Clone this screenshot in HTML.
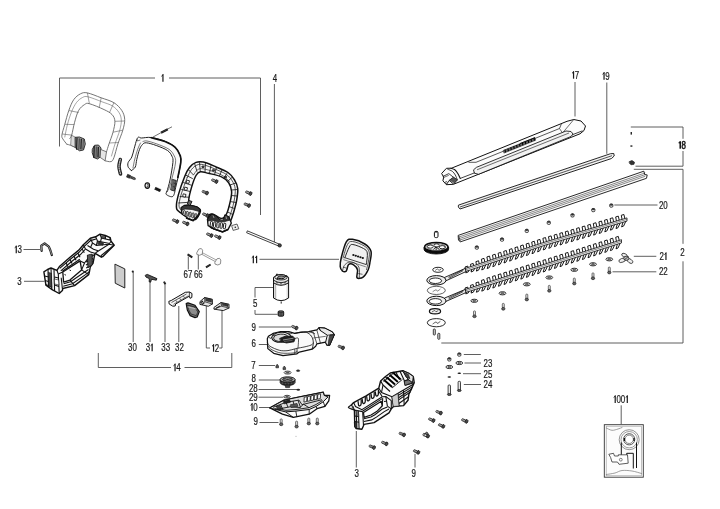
<!DOCTYPE html>
<html><head><meta charset="utf-8"><title>Exploded view</title>
<style>
html,body{margin:0;padding:0;background:#fff;}
body{width:720px;height:509px;overflow:hidden;font-family:"Liberation Sans",sans-serif;}
svg{display:block;filter:blur(0.35px);}
svg text{font-family:"Liberation Sans",sans-serif;}
</style></head><body>
<svg width="720" height="509" viewBox="0 0 720 509">
<rect width="720" height="509" fill="#fff"/>
<defs><filter id="nf" x="-5%" y="-5%" width="110%" height="110%" color-interpolation-filters="sRGB"><feOffset dx="0" dy="0"/></filter></defs>
<g filter="url(#nf)">
<path d="M59.50,146.50 L59.50,78.00 L155.00,78.00" fill="none" stroke="#4d4d4d" stroke-width="0.9" />
<path d="M169.00,78.00 L260.50,78.00 L260.50,215.00" fill="none" stroke="#4d4d4d" stroke-width="0.9" />
<path d="M162.95,74.31 L162.95,81.69" stroke="#1a1a1a" stroke-width="1.21" fill="none"/>
<path d="M163.25,74.66 L161.40,76.26" stroke="#1a1a1a" stroke-width="0.97" fill="none"/>
<text transform="translate(275.00,81.99) scale(0.77,1)" text-anchor="middle" font-size="10.3" font-weight="normal" fill="#1a1a1a" stroke="#1a1a1a" stroke-width="0.22">4</text>
<path d="M274.40,84.00 L274.40,244.00" fill="none" stroke="#4d4d4d" stroke-width="0.9" />
<path d="M16.25,245.81 L16.25,253.19" stroke="#1a1a1a" stroke-width="1.21" fill="none"/>
<path d="M16.55,246.16 L14.70,247.76" stroke="#1a1a1a" stroke-width="0.97" fill="none"/>
<text transform="translate(19.63,253.19) scale(0.77,1)" text-anchor="middle" font-size="10.3" font-weight="normal" fill="#1a1a1a" stroke="#1a1a1a" stroke-width="0.22">3</text>
<path d="M23.50,249.50 L40.00,249.50" fill="none" stroke="#4d4d4d" stroke-width="0.9" />
<text transform="translate(19.50,284.99) scale(0.77,1)" text-anchor="middle" font-size="10.3" font-weight="normal" fill="#1a1a1a" stroke="#1a1a1a" stroke-width="0.22">3</text>
<path d="M24.00,281.30 L44.50,281.30" fill="none" stroke="#4d4d4d" stroke-width="0.9" />
<text transform="translate(185.80,278.19) scale(0.77,1)" text-anchor="middle" font-size="10.3" font-weight="normal" fill="#1a1a1a" stroke="#1a1a1a" stroke-width="0.22">6</text>
<text transform="translate(190.20,278.19) scale(0.77,1)" text-anchor="middle" font-size="10.3" font-weight="normal" fill="#1a1a1a" stroke="#1a1a1a" stroke-width="0.22">7</text>
<path d="M188.30,256.50 L188.30,269.50" fill="none" stroke="#4d4d4d" stroke-width="0.9" />
<text transform="translate(196.10,278.19) scale(0.77,1)" text-anchor="middle" font-size="10.3" font-weight="normal" fill="#1a1a1a" stroke="#1a1a1a" stroke-width="0.22">6</text>
<text transform="translate(200.50,278.19) scale(0.77,1)" text-anchor="middle" font-size="10.3" font-weight="normal" fill="#1a1a1a" stroke="#1a1a1a" stroke-width="0.22">6</text>
<path d="M198.30,252.50 L198.30,269.50" fill="none" stroke="#4d4d4d" stroke-width="0.9" />
<path d="M253.32,255.81 L253.32,263.19" stroke="#1a1a1a" stroke-width="1.21" fill="none"/>
<path d="M253.62,256.16 L251.77,257.76" stroke="#1a1a1a" stroke-width="0.97" fill="none"/>
<path d="M256.58,255.81 L256.58,263.19" stroke="#1a1a1a" stroke-width="1.21" fill="none"/>
<path d="M256.88,256.16 L255.03,257.76" stroke="#1a1a1a" stroke-width="0.97" fill="none"/>
<path d="M259.50,259.30 L339.00,259.30" fill="none" stroke="#4d4d4d" stroke-width="0.9" />
<text transform="translate(130.30,351.19) scale(0.77,1)" text-anchor="middle" font-size="10.3" font-weight="normal" fill="#1a1a1a" stroke="#1a1a1a" stroke-width="0.22">3</text>
<text transform="translate(134.70,351.19) scale(0.77,1)" text-anchor="middle" font-size="10.3" font-weight="normal" fill="#1a1a1a" stroke="#1a1a1a" stroke-width="0.22">0</text>
<text transform="translate(147.87,351.19) scale(0.77,1)" text-anchor="middle" font-size="10.3" font-weight="normal" fill="#1a1a1a" stroke="#1a1a1a" stroke-width="0.22">3</text>
<path d="M152.15,343.81 L152.15,351.19" stroke="#1a1a1a" stroke-width="1.21" fill="none"/>
<path d="M152.45,344.16 L150.60,345.76" stroke="#1a1a1a" stroke-width="0.97" fill="none"/>
<text transform="translate(163.50,351.19) scale(0.77,1)" text-anchor="middle" font-size="10.3" font-weight="normal" fill="#1a1a1a" stroke="#1a1a1a" stroke-width="0.22">3</text>
<text transform="translate(167.90,351.19) scale(0.77,1)" text-anchor="middle" font-size="10.3" font-weight="normal" fill="#1a1a1a" stroke="#1a1a1a" stroke-width="0.22">3</text>
<text transform="translate(177.30,351.19) scale(0.77,1)" text-anchor="middle" font-size="10.3" font-weight="normal" fill="#1a1a1a" stroke="#1a1a1a" stroke-width="0.22">3</text>
<text transform="translate(181.70,351.19) scale(0.77,1)" text-anchor="middle" font-size="10.3" font-weight="normal" fill="#1a1a1a" stroke="#1a1a1a" stroke-width="0.22">2</text>
<path d="M213.55,344.31 L213.55,351.69" stroke="#1a1a1a" stroke-width="1.21" fill="none"/>
<path d="M213.85,344.66 L212.00,346.26" stroke="#1a1a1a" stroke-width="0.97" fill="none"/>
<text transform="translate(216.93,351.69) scale(0.77,1)" text-anchor="middle" font-size="10.3" font-weight="normal" fill="#1a1a1a" stroke="#1a1a1a" stroke-width="0.22">2</text>
<path d="M175.05,363.81 L175.05,371.19" stroke="#1a1a1a" stroke-width="1.21" fill="none"/>
<path d="M175.35,364.16 L173.50,365.76" stroke="#1a1a1a" stroke-width="0.97" fill="none"/>
<text transform="translate(178.43,371.19) scale(0.77,1)" text-anchor="middle" font-size="10.3" font-weight="normal" fill="#1a1a1a" stroke="#1a1a1a" stroke-width="0.22">4</text>
<path d="M133.20,272.00 L133.20,342.00" fill="none" stroke="#4d4d4d" stroke-width="0.9" />
<path d="M150.00,281.00 L150.00,342.00" fill="none" stroke="#4d4d4d" stroke-width="0.9" />
<path d="M165.00,284.50 L165.00,342.00" fill="none" stroke="#4d4d4d" stroke-width="0.9" />
<path d="M178.80,306.00 L178.80,342.00" fill="none" stroke="#4d4d4d" stroke-width="0.9" />
<path d="M206.30,304.50 L206.30,348.00 L210.00,348.00" fill="none" stroke="#4d4d4d" stroke-width="0.9" />
<path d="M222.00,310.00 L222.00,348.00 L219.30,348.00" fill="none" stroke="#4d4d4d" stroke-width="0.9" />
<path d="M98.30,353.00 L98.30,367.50 L171.00,367.50" fill="none" stroke="#4d4d4d" stroke-width="0.9" />
<path d="M184.50,367.50 L231.80,367.50 L231.80,353.00" fill="none" stroke="#4d4d4d" stroke-width="0.9" />
<text transform="translate(255.30,307.19) scale(0.77,1)" text-anchor="middle" font-size="10.3" font-weight="normal" fill="#1a1a1a" stroke="#1a1a1a" stroke-width="0.22">5</text>
<path d="M273.00,287.50 L255.00,287.50 L255.00,297.50" fill="none" stroke="#4d4d4d" stroke-width="0.9" />
<path d="M255.00,310.00 L255.00,314.30 L277.50,314.30" fill="none" stroke="#4d4d4d" stroke-width="0.9" />
<text transform="translate(253.80,330.69) scale(0.77,1)" text-anchor="middle" font-size="10.3" font-weight="normal" fill="#1a1a1a" stroke="#1a1a1a" stroke-width="0.22">9</text>
<path d="M258.80,327.00 L291.00,327.00" fill="none" stroke="#4d4d4d" stroke-width="0.9" />
<text transform="translate(253.80,347.19) scale(0.77,1)" text-anchor="middle" font-size="10.3" font-weight="normal" fill="#1a1a1a" stroke="#1a1a1a" stroke-width="0.22">6</text>
<path d="M258.80,344.50 L267.50,344.50" fill="none" stroke="#4d4d4d" stroke-width="0.9" />
<text transform="translate(253.50,368.99) scale(0.77,1)" text-anchor="middle" font-size="10.3" font-weight="normal" fill="#1a1a1a" stroke="#1a1a1a" stroke-width="0.22">7</text>
<path d="M258.80,365.50 L275.00,365.50" fill="none" stroke="#4d4d4d" stroke-width="0.9" />
<text transform="translate(253.80,382.19) scale(0.77,1)" text-anchor="middle" font-size="10.3" font-weight="normal" fill="#1a1a1a" stroke="#1a1a1a" stroke-width="0.22">8</text>
<path d="M258.80,380.00 L280.00,380.00" fill="none" stroke="#4d4d4d" stroke-width="0.9" />
<text transform="translate(251.10,391.99) scale(0.77,1)" text-anchor="middle" font-size="10.3" font-weight="normal" fill="#1a1a1a" stroke="#1a1a1a" stroke-width="0.22">2</text>
<text transform="translate(255.50,391.99) scale(0.77,1)" text-anchor="middle" font-size="10.3" font-weight="normal" fill="#1a1a1a" stroke="#1a1a1a" stroke-width="0.22">8</text>
<path d="M258.50,389.50 L297.00,389.50" fill="none" stroke="#4d4d4d" stroke-width="0.9" />
<text transform="translate(251.10,400.99) scale(0.77,1)" text-anchor="middle" font-size="10.3" font-weight="normal" fill="#1a1a1a" stroke="#1a1a1a" stroke-width="0.22">2</text>
<text transform="translate(255.50,400.99) scale(0.77,1)" text-anchor="middle" font-size="10.3" font-weight="normal" fill="#1a1a1a" stroke="#1a1a1a" stroke-width="0.22">9</text>
<path d="M258.50,397.20 L283.50,397.20" fill="none" stroke="#4d4d4d" stroke-width="0.9" />
<path d="M252.05,403.31 L252.05,410.69" stroke="#1a1a1a" stroke-width="1.21" fill="none"/>
<path d="M252.35,403.66 L250.50,405.26" stroke="#1a1a1a" stroke-width="0.97" fill="none"/>
<text transform="translate(255.43,410.69) scale(0.77,1)" text-anchor="middle" font-size="10.3" font-weight="normal" fill="#1a1a1a" stroke="#1a1a1a" stroke-width="0.22">0</text>
<path d="M259.00,407.50 L270.00,407.50" fill="none" stroke="#4d4d4d" stroke-width="0.9" />
<text transform="translate(255.80,425.49) scale(0.77,1)" text-anchor="middle" font-size="10.3" font-weight="normal" fill="#1a1a1a" stroke="#1a1a1a" stroke-width="0.22">9</text>
<path d="M259.50,422.50 L278.50,422.50" fill="none" stroke="#4d4d4d" stroke-width="0.9" />
<text transform="translate(356.80,476.69) scale(0.77,1)" text-anchor="middle" font-size="10.3" font-weight="normal" fill="#1a1a1a" stroke="#1a1a1a" stroke-width="0.22">3</text>
<path d="M356.30,431.00 L356.30,467.50" fill="none" stroke="#4d4d4d" stroke-width="0.9" />
<text transform="translate(413.80,476.69) scale(0.77,1)" text-anchor="middle" font-size="10.3" font-weight="normal" fill="#1a1a1a" stroke="#1a1a1a" stroke-width="0.22">9</text>
<path d="M415.00,453.80 L415.00,467.50" fill="none" stroke="#4d4d4d" stroke-width="0.9" />
<path d="M463.80,354.50 L480.80,354.50" fill="none" stroke="#4d4d4d" stroke-width="0.9" />
<text transform="translate(485.80,366.89) scale(0.77,1)" text-anchor="middle" font-size="10.3" font-weight="normal" fill="#1a1a1a" stroke="#1a1a1a" stroke-width="0.22">2</text>
<text transform="translate(490.20,366.89) scale(0.77,1)" text-anchor="middle" font-size="10.3" font-weight="normal" fill="#1a1a1a" stroke="#1a1a1a" stroke-width="0.22">3</text>
<path d="M464.50,363.00 L481.00,363.00" fill="none" stroke="#4d4d4d" stroke-width="0.9" />
<text transform="translate(485.80,377.89) scale(0.77,1)" text-anchor="middle" font-size="10.3" font-weight="normal" fill="#1a1a1a" stroke="#1a1a1a" stroke-width="0.22">2</text>
<text transform="translate(490.20,377.89) scale(0.77,1)" text-anchor="middle" font-size="10.3" font-weight="normal" fill="#1a1a1a" stroke="#1a1a1a" stroke-width="0.22">5</text>
<path d="M463.00,373.70 L481.00,373.70" fill="none" stroke="#4d4d4d" stroke-width="0.9" />
<text transform="translate(485.80,388.29) scale(0.77,1)" text-anchor="middle" font-size="10.3" font-weight="normal" fill="#1a1a1a" stroke="#1a1a1a" stroke-width="0.22">2</text>
<text transform="translate(490.20,388.29) scale(0.77,1)" text-anchor="middle" font-size="10.3" font-weight="normal" fill="#1a1a1a" stroke="#1a1a1a" stroke-width="0.22">4</text>
<path d="M463.80,384.50 L481.00,384.50" fill="none" stroke="#4d4d4d" stroke-width="0.9" />
<path d="M573.55,71.31 L573.55,78.69" stroke="#1a1a1a" stroke-width="1.21" fill="none"/>
<path d="M573.85,71.66 L572.00,73.26" stroke="#1a1a1a" stroke-width="0.97" fill="none"/>
<text transform="translate(576.93,78.69) scale(0.77,1)" text-anchor="middle" font-size="10.3" font-weight="normal" fill="#1a1a1a" stroke="#1a1a1a" stroke-width="0.22">7</text>
<path d="M575.00,82.00 L575.00,116.50" fill="none" stroke="#4d4d4d" stroke-width="0.9" />
<path d="M604.05,72.31 L604.05,79.69" stroke="#1a1a1a" stroke-width="1.21" fill="none"/>
<path d="M604.35,72.66 L602.50,74.26" stroke="#1a1a1a" stroke-width="0.97" fill="none"/>
<text transform="translate(607.43,79.69) scale(0.77,1)" text-anchor="middle" font-size="10.3" font-weight="normal" fill="#1a1a1a" stroke="#1a1a1a" stroke-width="0.22">9</text>
<path d="M606.80,82.50 L606.80,153.80" fill="none" stroke="#4d4d4d" stroke-width="0.9" />
<path d="M680.25,141.31 L680.25,148.69" stroke="#1a1a1a" stroke-width="1.61" fill="none"/>
<path d="M680.55,141.66 L678.70,143.26" stroke="#1a1a1a" stroke-width="1.30" fill="none"/>
<text transform="translate(683.63,148.69) scale(0.77,1)" text-anchor="middle" font-size="10.3" font-weight="normal" fill="#1a1a1a" stroke="#1a1a1a" stroke-width="0.55">8</text>
<path d="M630.80,127.00 L683.00,127.00 L683.00,138.80" fill="none" stroke="#4d4d4d" stroke-width="0.9" />
<path d="M683.00,151.00 L683.00,166.20 L635.50,166.20" fill="none" stroke="#4d4d4d" stroke-width="0.9" />
<text transform="translate(682.50,256.19) scale(0.77,1)" text-anchor="middle" font-size="10.3" font-weight="normal" fill="#1a1a1a" stroke="#1a1a1a" stroke-width="0.22">2</text>
<path d="M633.80,169.30 L683.00,169.30 L683.00,243.80" fill="none" stroke="#4d4d4d" stroke-width="0.9" />
<path d="M683.00,261.30 L683.00,343.00 L441.30,343.00" fill="none" stroke="#4d4d4d" stroke-width="0.9" />
<text transform="translate(661.10,209.49) scale(0.77,1)" text-anchor="middle" font-size="10.3" font-weight="normal" fill="#1a1a1a" stroke="#1a1a1a" stroke-width="0.22">2</text>
<text transform="translate(665.50,209.49) scale(0.77,1)" text-anchor="middle" font-size="10.3" font-weight="normal" fill="#1a1a1a" stroke="#1a1a1a" stroke-width="0.22">0</text>
<path d="M614.30,205.00 L657.50,205.00" fill="none" stroke="#4d4d4d" stroke-width="0.9" />
<text transform="translate(661.67,259.99) scale(0.77,1)" text-anchor="middle" font-size="10.3" font-weight="normal" fill="#1a1a1a" stroke="#1a1a1a" stroke-width="0.22">2</text>
<path d="M665.95,252.61 L665.95,259.99" stroke="#1a1a1a" stroke-width="1.21" fill="none"/>
<path d="M666.25,252.96 L664.40,254.56" stroke="#1a1a1a" stroke-width="0.97" fill="none"/>
<path d="M633.80,256.30 L656.30,256.30" fill="none" stroke="#4d4d4d" stroke-width="0.9" />
<text transform="translate(661.10,275.49) scale(0.77,1)" text-anchor="middle" font-size="10.3" font-weight="normal" fill="#1a1a1a" stroke="#1a1a1a" stroke-width="0.22">2</text>
<text transform="translate(665.50,275.49) scale(0.77,1)" text-anchor="middle" font-size="10.3" font-weight="normal" fill="#1a1a1a" stroke="#1a1a1a" stroke-width="0.22">2</text>
<path d="M612.50,271.80 L656.30,271.80" fill="none" stroke="#4d4d4d" stroke-width="0.9" />
<path d="M615.21,395.51 L615.21,402.89" stroke="#1a1a1a" stroke-width="1.21" fill="none"/>
<path d="M615.51,395.86 L613.66,397.46" stroke="#1a1a1a" stroke-width="0.97" fill="none"/>
<text transform="translate(618.60,402.89) scale(0.77,1)" text-anchor="middle" font-size="10.3" font-weight="normal" fill="#1a1a1a" stroke="#1a1a1a" stroke-width="0.22">0</text>
<text transform="translate(623.00,402.89) scale(0.77,1)" text-anchor="middle" font-size="10.3" font-weight="normal" fill="#1a1a1a" stroke="#1a1a1a" stroke-width="0.22">0</text>
<path d="M627.29,395.51 L627.29,402.89" stroke="#1a1a1a" stroke-width="1.21" fill="none"/>
<path d="M627.59,395.86 L625.74,397.46" stroke="#1a1a1a" stroke-width="0.97" fill="none"/>
<path d="M621.20,405.30 L621.20,424.20" fill="none" stroke="#4d4d4d" stroke-width="0.9" />
</g>
<path d="M66.80,144.20 C66.15,143.33 63.72,140.52 62.90,139.00 C62.08,137.48 61.58,137.55 61.90,135.10 C62.22,132.65 63.65,128.40 64.80,124.30 C65.95,120.20 67.32,114.60 68.80,110.50 C70.28,106.40 71.75,102.48 73.70,99.70 C75.65,96.92 78.22,94.93 80.50,93.80 C82.78,92.67 83.95,92.23 87.40,92.90 C90.85,93.57 96.78,96.17 101.20,97.80 C105.62,99.43 110.47,100.58 113.90,102.70 C117.33,104.82 120.00,107.72 121.80,110.50 C123.60,113.28 124.53,116.12 124.70,119.40 C124.87,122.68 123.93,126.12 122.80,130.20 C121.67,134.28 119.38,139.32 117.90,143.90 C116.42,148.48 115.05,154.75 113.90,157.70 C112.75,160.65 112.47,161.08 111.00,161.60 C109.53,162.12 106.08,160.93 105.10,160.80" fill="none" stroke="#5c5c5c" stroke-width="0.85" stroke-linejoin="round" stroke-linecap="round" />
<path d="M69.70,138.50 C70.03,137.93 70.88,137.80 71.70,135.10 C72.52,132.40 73.45,126.40 74.60,122.30 C75.75,118.20 76.95,113.45 78.60,110.50 C80.25,107.55 82.70,105.73 84.50,104.60 C86.30,103.47 86.13,102.87 89.40,103.70 C92.67,104.53 100.33,107.80 104.10,109.60 C107.87,111.40 110.20,112.55 112.00,114.50 C113.80,116.45 114.73,118.35 114.90,121.30 C115.07,124.25 113.98,128.43 113.00,132.20 C112.02,135.97 110.08,140.63 109.00,143.90 C107.92,147.17 106.92,150.48 106.50,151.80" fill="none" stroke="#5c5c5c" stroke-width="0.85" stroke-linejoin="round" stroke-linecap="round" />
<path d="M64.80,137.00 C65.22,135.00 66.18,129.17 67.30,125.00 C68.42,120.83 69.97,115.75 71.50,112.00 C73.03,108.25 74.67,104.92 76.50,102.50 C78.33,100.08 80.58,98.45 82.50,97.50 C84.42,96.55 84.75,96.08 88.00,96.80 C91.25,97.52 97.92,100.27 102.00,101.80 C106.08,103.33 109.67,104.22 112.50,106.00 C115.33,107.78 117.53,110.17 119.00,112.50 C120.47,114.83 121.17,117.08 121.30,120.00 C121.43,122.92 120.85,126.00 119.80,130.00 C118.75,134.00 116.38,139.67 115.00,144.00 C113.62,148.33 112.08,154.00 111.50,156.00" fill="none" stroke="#5c5c5c" stroke-width="0.55" stroke-linejoin="round" stroke-linecap="round" />
<path d="M66.80,144.20 C67.42,144.38 69.13,144.78 70.50,145.30 C71.87,145.82 74.25,146.97 75.00,147.30" fill="none" stroke="#5c5c5c" stroke-width="0.8" stroke-linejoin="round" stroke-linecap="round" />
<path d="M87.40,92.90 L89.40,103.70" fill="none" stroke="#5c5c5c" stroke-width="0.6" />
<path d="M101.20,97.80 L99.20,107.60" fill="none" stroke="#5c5c5c" stroke-width="0.6" />
<path d="M113.90,102.70 L109.50,112.50" fill="none" stroke="#5c5c5c" stroke-width="0.6" />
<path d="M68.80,110.50 L78.60,112.50" fill="none" stroke="#5c5c5c" stroke-width="0.6" />
<path d="M64.80,124.30 L74.30,124.60" fill="none" stroke="#5c5c5c" stroke-width="0.6" />
<path d="M124.50,121.00 L114.90,121.30" fill="none" stroke="#5c5c5c" stroke-width="0.6" />
<path d="M122.80,130.20 L113.00,132.20" fill="none" stroke="#5c5c5c" stroke-width="0.6" />
<path d="M118.50,142.50 L109.30,143.00" fill="none" stroke="#5c5c5c" stroke-width="0.6" />
<path d="M62.30,134.00 L71.70,135.10" fill="none" stroke="#5c5c5c" stroke-width="0.6" />
<path d="M71.70,135.30 L75.50,137.30 L75.50,147.50 L71.00,145.30 Z" fill="#ddd" stroke="#444" stroke-width="0.6" stroke-linejoin="round" stroke-linecap="round" />
<path d="M75.50,137.30 L79.50,137.00 L84.30,139.00 L85.30,144.00 L83.50,150.00 L79.50,150.80 L75.50,147.80 Z" fill="#999" stroke="#222" stroke-width="0.9" stroke-linejoin="round" stroke-linecap="round" />
<path d="M77.00,137.80 L76.60,149.80" fill="none" stroke="#111" stroke-width="1.1" />
<path d="M79.30,138.38 L78.90,149.57" fill="none" stroke="#111" stroke-width="0.7" />
<path d="M81.30,138.88 L80.90,149.37" fill="none" stroke="#111" stroke-width="1.1" />
<path d="M83.30,139.38 L82.90,149.17" fill="none" stroke="#111" stroke-width="0.6" />
<path d="M92.50,149.00 L94.50,145.30 L98.50,145.00 L101.00,148.00 L100.30,157.00 L97.50,159.00 L93.80,157.50 L92.30,153.00 Z" fill="#999" stroke="#222" stroke-width="0.9" stroke-linejoin="round" stroke-linecap="round" />
<path d="M94.20,146.04 L93.90,157.98" fill="none" stroke="#111" stroke-width="1.2" />
<path d="M96.30,146.46 L96.00,157.77" fill="none" stroke="#111" stroke-width="0.7" />
<path d="M98.30,146.86 L98.00,157.57" fill="none" stroke="#111" stroke-width="1.2" />
<path d="M100.80,149.50 L106.50,151.80 L105.10,160.80 L100.30,157.50 Z" fill="#e5e5e5" stroke="#444" stroke-width="0.7" stroke-linejoin="round" stroke-linecap="round" />
<path d="M120.30,159.50 C120.08,160.67 118.97,164.08 119.00,166.50 C119.03,168.92 120.25,172.75 120.50,174.00" fill="none" stroke="#222" stroke-width="3.6" stroke-linejoin="round" stroke-linecap="round" />
<path d="M120.30,159.50 C120.08,160.67 118.97,164.08 119.00,166.50 C119.03,168.92 120.25,172.75 120.50,174.00" fill="none" stroke="#bbb" stroke-width="1.3" stroke-linejoin="round" stroke-linecap="round" stroke-dasharray="0.9 1.3"/>
<g transform="translate(131.5,177.5) rotate(22)"><rect x="-4.8" y="-1.5" width="3.2" height="3" fill="#333" stroke="#111" stroke-width="0.5"/><rect x="-1.6" y="-1" width="5" height="2" fill="#777" stroke="#111" stroke-width="0.5"/><path d="M3.4,-1 L5,0 L3.4,1 Z" fill="#222"/><line x1="0" y1="-1" x2="0" y2="1" stroke="#111" stroke-width="0.5"/><line x1="1.5" y1="-1" x2="1.5" y2="1" stroke="#111" stroke-width="0.5"/></g>
<path d="M131.50,170.50 C130.97,169.97 128.87,168.62 128.30,167.30 C127.73,165.98 127.52,164.32 128.10,162.60 C128.68,160.88 130.78,159.35 131.80,157.00 C132.82,154.65 133.37,151.42 134.20,148.50 C135.03,145.58 136.03,141.42 136.80,139.50 C137.57,137.58 138.05,137.25 138.80,137.00 C139.55,136.75 139.22,137.92 141.30,138.00 C143.38,138.08 147.35,136.95 151.30,137.50 C155.25,138.05 161.05,139.72 165.00,141.30 C168.95,142.88 172.50,144.63 175.00,147.00 C177.50,149.37 179.08,152.92 180.00,155.50 C180.92,158.08 180.63,159.78 180.50,162.50 C180.37,165.22 179.95,167.88 179.20,171.80 C178.45,175.72 177.03,181.92 176.00,186.00 C174.97,190.08 174.62,194.88 173.00,196.30 C171.38,197.72 167.30,195.33 166.30,194.50 C165.30,193.67 166.88,191.83 167.00,191.30 C167.12,190.77 166.50,193.18 167.00,191.30 C167.50,189.42 169.02,184.80 170.00,180.00 C170.98,175.20 172.57,166.45 172.90,162.50 C173.23,158.55 172.90,158.30 172.00,156.30 C171.10,154.30 170.12,152.30 167.50,150.50 C164.88,148.70 159.83,146.78 156.30,145.50 C152.77,144.22 148.60,142.97 146.30,142.80 C144.00,142.63 143.63,143.38 142.50,144.50 C141.37,145.62 140.45,147.03 139.50,149.50 C138.55,151.97 137.50,156.38 136.80,159.30 C136.10,162.22 136.18,165.13 135.30,167.00 C134.42,168.87 132.13,169.92 131.50,170.50 C130.87,171.08 132.03,171.03 131.50,170.50 Z" fill="#fbfbfb" stroke="#222" stroke-width="1.0" stroke-linejoin="round" stroke-linecap="round" />
<path d="M151.30,137.70 C153.58,138.33 161.02,139.90 165.00,141.50 C168.98,143.10 172.65,144.93 175.20,147.30 C177.75,149.67 179.37,153.17 180.30,155.70 C181.23,158.23 181.22,158.87 180.80,162.50 C180.38,166.13 178.30,175.00 177.80,177.50" fill="none" stroke="#111" stroke-width="1.7" stroke-linejoin="round" stroke-linecap="round" />
<path d="M168.50,190.00 C169.00,188.33 170.33,184.50 171.50,180.00 C172.67,175.50 175.03,167.00 175.50,163.00 C175.97,159.00 175.38,158.28 174.30,156.00 C173.22,153.72 171.88,151.30 169.00,149.30 C166.12,147.30 160.67,145.38 157.00,144.00 C153.33,142.62 149.33,141.42 147.00,141.00 C144.67,140.58 143.67,141.42 143.00,141.50" fill="none" stroke="#222" stroke-width="0.6" stroke-linejoin="round" stroke-linecap="round" />
<path d="M133.00,168.00 C133.30,166.50 134.00,162.17 134.80,159.00 C135.60,155.83 136.85,151.67 137.80,149.00 C138.75,146.33 140.05,144.00 140.50,143.00" fill="none" stroke="#222" stroke-width="0.6" stroke-linejoin="round" stroke-linecap="round" />
<path d="M172.80,179.50 L176.30,180.50 L174.30,191.00 L171.00,190.00 Z" fill="#666" stroke="#111" stroke-width="0.8" stroke-linejoin="round" stroke-linecap="round" />
<path d="M173.50,183.00 L175.50,183.60" fill="none" stroke="#111" stroke-width="0.6" />
<path d="M172.80,186.50 L174.80,187.10" fill="none" stroke="#111" stroke-width="0.6" />
<path d="M137.00,138.80 L137.30,141.00 L140.30,140.00" fill="none" stroke="#222" stroke-width="0.6" />
<path d="M152.50,137.30 L160.80,132.80" fill="none" stroke="#333" stroke-width="0.7" />
<path d="M161.00,132.70 L167.80,129.20" fill="none" stroke="#111" stroke-width="2.1" stroke-linecap="butt"/>
<path d="M161.00,132.70 L167.80,129.20" fill="none" stroke="#888" stroke-width="0.8400000000000001" stroke-dasharray="0.45 0.8" stroke-linecap="butt"/>
<path d="M167.50,129.10 L172.00,126.80" fill="none" stroke="#333" stroke-width="0.7" />
<ellipse cx="147.30" cy="185.60" rx="2.3" ry="2.8" fill="#bbb" stroke="#111" stroke-width="1.1"/>
<ellipse cx="146.70" cy="185.40" rx="1.3" ry="2" fill="#eee" stroke="#111" stroke-width="0.7"/>
<path d="M155.30,188.30 L160.20,190.60" fill="none" stroke="#333" stroke-width="2.4" />
<path d="M155.94,186.94 L154.66,189.66" fill="none" stroke="#000" stroke-width="0.7" />
<path d="M156.92,187.40 L155.64,190.12" fill="none" stroke="#000" stroke-width="0.7" />
<path d="M157.90,187.86 L156.62,190.58" fill="none" stroke="#000" stroke-width="0.7" />
<path d="M158.88,188.32 L157.60,191.04" fill="none" stroke="#000" stroke-width="0.7" />
<path d="M159.86,188.78 L158.58,191.50" fill="none" stroke="#000" stroke-width="0.7" />
<path d="M160.84,189.24 L159.56,191.96" fill="none" stroke="#000" stroke-width="0.7" />
<path d="M184.80,176.20 C186.63,171.72 187.63,169.80 189.50,167.50 C191.37,165.20 193.70,163.30 196.00,162.40 C198.30,161.50 200.03,161.38 203.30,162.10 C206.57,162.82 211.48,164.97 215.60,166.70 C219.72,168.43 224.85,170.32 228.00,172.50 C231.15,174.68 232.88,177.13 234.50,179.80 C236.12,182.47 237.33,185.10 237.70,188.50 C238.07,191.90 237.35,196.32 236.70,200.20 C236.05,204.08 234.88,208.17 233.80,211.80 C232.72,215.43 231.53,219.08 230.20,222.00 C228.87,224.92 228.23,228.08 225.80,229.30 C223.37,230.52 218.38,230.03 215.60,229.30 C212.82,228.57 210.30,227.08 209.10,224.90 C207.90,222.72 207.80,218.02 208.40,216.20 C209.00,214.38 210.52,213.63 212.70,214.00 C214.88,214.37 219.20,218.40 221.50,218.40 C223.80,218.40 225.05,216.80 226.50,214.00 C227.95,211.20 229.35,205.35 230.20,201.60 C231.05,197.85 231.85,194.65 231.60,191.50 C231.35,188.35 230.38,185.13 228.70,182.70 C227.02,180.27 224.88,178.47 221.50,176.90 C218.12,175.33 211.92,174.15 208.40,173.30 C204.88,172.45 202.47,171.43 200.40,171.80 C198.33,172.17 197.47,172.95 196.00,175.50 C194.53,178.05 192.82,182.98 191.60,187.10 C190.38,191.22 188.93,197.17 188.70,200.20 C188.47,203.23 188.73,204.08 190.20,205.30 C191.67,206.52 195.80,206.53 197.50,207.50 C199.20,208.47 200.65,209.17 200.40,211.10 C200.15,213.03 197.58,217.88 196.00,219.10 C194.42,220.32 193.68,219.62 190.90,218.40 C188.12,217.18 181.72,213.75 179.30,211.80 C176.88,209.85 176.53,209.60 176.40,206.70 C176.27,203.80 177.10,199.48 178.50,194.40 C179.90,189.32 182.97,180.68 184.80,176.20 Z" fill="#f7f7f7" stroke="#111" stroke-width="1.5" stroke-linejoin="round" stroke-linecap="round" />
<path d="M187.20,177.50 C187.92,176.17 189.87,171.58 191.50,169.50 C193.13,167.42 195.03,165.80 197.00,165.00 C198.97,164.20 200.30,164.03 203.30,164.70 C206.30,165.37 211.13,167.37 215.00,169.00 C218.87,170.63 223.62,172.50 226.50,174.50 C229.38,176.50 230.85,178.63 232.30,181.00 C233.75,183.37 234.87,185.53 235.20,188.70 C235.53,191.87 234.92,196.28 234.30,200.00 C233.68,203.72 232.55,207.50 231.50,211.00 C230.45,214.50 228.58,219.33 228.00,221.00" fill="none" stroke="#111" stroke-width="0.7" stroke-linejoin="round" stroke-linecap="round" />
<path d="M187.20,177.50 C186.17,180.42 182.37,190.25 181.00,195.00 C179.63,199.75 178.92,203.45 179.00,206.00 C179.08,208.55 181.08,209.58 181.50,210.30" fill="none" stroke="#111" stroke-width="0.7" stroke-linejoin="round" stroke-linecap="round" />
<path d="M193.50,175.00 C194.17,174.13 195.92,170.83 197.50,169.80 C199.08,168.77 200.17,168.43 203.00,168.80 C205.83,169.17 211.17,170.83 214.50,172.00 C217.83,173.17 220.50,174.22 223.00,175.80 C225.50,177.38 228.42,180.55 229.50,181.50" fill="none" stroke="#111" stroke-width="0.6" stroke-linejoin="round" stroke-linecap="round" />
<path d="M194.50,163.30 L197.00,171.50" fill="none" stroke="#111" stroke-width="0.8" />
<path d="M199.50,162.30 L200.30,171.50" fill="none" stroke="#111" stroke-width="0.8" />
<path d="M205.50,163.00 L205.00,172.00" fill="none" stroke="#111" stroke-width="0.8" />
<path d="M211.00,165.20 L209.50,173.20" fill="none" stroke="#111" stroke-width="0.8" />
<path d="M216.50,167.30 L214.50,174.80" fill="none" stroke="#111" stroke-width="0.8" />
<path d="M222.00,169.80 L219.30,176.30" fill="none" stroke="#111" stroke-width="0.8" />
<path d="M227.50,172.50 L223.80,178.50" fill="none" stroke="#111" stroke-width="0.8" />
<path d="M232.30,177.20 L227.50,181.50" fill="none" stroke="#111" stroke-width="0.8" />
<path d="M235.80,183.00 L230.00,185.00" fill="none" stroke="#111" stroke-width="0.8" />
<path d="M237.50,189.50 L231.60,190.00" fill="none" stroke="#111" stroke-width="0.8" />
<path d="M237.30,196.00 L231.20,195.50" fill="none" stroke="#111" stroke-width="0.8" />
<path d="M236.00,202.50 L230.00,201.50" fill="none" stroke="#111" stroke-width="0.8" />
<path d="M234.50,208.50 L228.80,206.50" fill="none" stroke="#111" stroke-width="0.8" />
<path d="M232.70,214.50 L227.30,211.80" fill="none" stroke="#111" stroke-width="0.8" />
<path d="M188.30,169.50 L193.50,175.00" fill="none" stroke="#111" stroke-width="0.8" />
<path d="M185.50,175.00 L192.80,178.70" fill="none" stroke="#111" stroke-width="0.8" />
<path d="M183.20,182.50 L191.70,185.30" fill="none" stroke="#111" stroke-width="0.8" />
<path d="M181.30,189.50 L190.30,191.50" fill="none" stroke="#111" stroke-width="0.8" />
<path d="M179.70,196.50 L189.30,197.30" fill="none" stroke="#111" stroke-width="0.8" />
<path d="M178.30,203.00 L188.70,202.30" fill="none" stroke="#111" stroke-width="0.8" />
<rect x="186.4" y="180.4" width="2.8" height="2.8" fill="#fff" stroke="#111" stroke-width="0.8" transform="rotate(14 187.8 181.8)"/>
<rect x="184.4" y="187.4" width="2.8" height="2.8" fill="#fff" stroke="#111" stroke-width="0.8" transform="rotate(14 185.8 188.8)"/>
<rect x="182.9" y="194.1" width="2.8" height="2.8" fill="#fff" stroke="#111" stroke-width="0.8" transform="rotate(14 184.3 195.5)"/>
<ellipse cx="203.00" cy="166.80" rx="1.3" ry="0.9" fill="#444" stroke="#111" stroke-width="0.7"/>
<ellipse cx="213.50" cy="170.30" rx="1.3" ry="0.9" fill="#444" stroke="#111" stroke-width="0.7"/>
<ellipse cx="225.50" cy="177.00" rx="1.3" ry="0.9" fill="#444" stroke="#111" stroke-width="0.7"/>
<path d="M181.30,207.50 L184.50,205.30 L188.80,205.00 L193.00,205.80 L196.90,206.90 L200.00,209.40 L198.10,215.60 L193.10,220.60 L187.50,218.10 L181.90,213.80 Z" fill="#f3f3f3" stroke="#111" stroke-width="1.3" stroke-linejoin="round" stroke-linecap="round" />
<path d="M181.30,207.50 L188.80,205.00 L196.90,206.90 L200.00,209.40 L199.30,211.50 L192.00,209.50 L185.00,209.00 L181.60,210.50 Z" fill="#3a3a3a" stroke="#111" stroke-width="0.7" stroke-linejoin="round" stroke-linecap="round" />
<rect x="183.60" y="210.60" width="1.9" height="4.8" rx="0.8" fill="#fff" stroke="#000" stroke-width="0.8" transform="rotate(8 183.60 210.60)"/>
<rect x="186.50" y="211.35" width="1.9" height="4.8" rx="0.8" fill="#fff" stroke="#000" stroke-width="0.8" transform="rotate(8 186.50 211.35)"/>
<rect x="189.40" y="212.10" width="1.9" height="4.8" rx="0.8" fill="#fff" stroke="#000" stroke-width="0.8" transform="rotate(8 189.40 212.10)"/>
<rect x="192.30" y="212.85" width="1.9" height="4.8" rx="0.8" fill="#fff" stroke="#000" stroke-width="0.8" transform="rotate(8 192.30 212.85)"/>
<rect x="195.20" y="213.60" width="1.9" height="4.8" rx="0.8" fill="#fff" stroke="#000" stroke-width="0.8" transform="rotate(8 195.20 213.60)"/>
<path d="M190.00,205.50 L192.00,201.50 L188.50,200.30 L187.50,203.70 Z" fill="#666" stroke="#111" stroke-width="0.9" stroke-linejoin="round" stroke-linecap="round" />
<path d="M186.00,218.00 L193.10,220.60 L198.10,215.60" fill="none" stroke="#111" stroke-width="1.6" />
<path d="M207.50,219.40 L211.30,214.40 L215.60,215.60 L219.40,219.40 L223.80,218.80 L225.00,215.00 L228.80,216.90 L231.30,223.10 L228.10,229.40 L222.50,231.90 L213.80,228.80 L208.10,225.60 Z" fill="#f3f3f3" stroke="#111" stroke-width="1.3" stroke-linejoin="round" stroke-linecap="round" />
<path d="M207.50,219.40 L211.30,214.40 L215.60,215.60 L219.40,219.40 L223.80,218.80 L225.00,215.00 L228.80,216.90 L230.00,220.00 L224.00,221.80 L218.00,221.80 L212.00,220.30 L208.00,221.00 Z" fill="#333" stroke="#111" stroke-width="0.7" stroke-linejoin="round" stroke-linecap="round" />
<rect x="210.60" y="221.30" width="2.1" height="5.6" rx="0.9" fill="#fff" stroke="#000" stroke-width="0.85" transform="rotate(6 210.60 221.30)"/>
<rect x="213.90" y="221.75" width="2.1" height="5.6" rx="0.9" fill="#fff" stroke="#000" stroke-width="0.85" transform="rotate(6 213.90 221.75)"/>
<rect x="217.20" y="222.20" width="2.1" height="5.6" rx="0.9" fill="#fff" stroke="#000" stroke-width="0.85" transform="rotate(6 217.20 222.20)"/>
<rect x="220.50" y="222.65" width="2.1" height="5.6" rx="0.9" fill="#fff" stroke="#000" stroke-width="0.85" transform="rotate(6 220.50 222.65)"/>
<rect x="223.80" y="223.10" width="2.1" height="5.6" rx="0.9" fill="#fff" stroke="#000" stroke-width="0.85" transform="rotate(6 223.80 223.10)"/>
<path d="M213.00,215.50 L214.00,218.00" fill="none" stroke="#ddd" stroke-width="0.6" />
<path d="M226.00,216.30 L226.50,219.00" fill="none" stroke="#ddd" stroke-width="0.6" />
<path d="M220.50,219.70 L223.00,219.30" fill="none" stroke="#ddd" stroke-width="0.6" />
<path d="M210.00,227.00 L213.80,228.80 L222.50,231.90 L228.10,229.40" fill="none" stroke="#111" stroke-width="1.6" />
<g transform="translate(215.00,181.00) rotate(22) scale(1.0)"><rect x="-3.5" y="-1.05" width="4.1" height="2.1" rx="0.6" fill="#d8d8d8" stroke="#111" stroke-width="0.65"/><line x1="-2.2" y1="-1" x2="-2.2" y2="1" stroke="#111" stroke-width="0.4"/><line x1="-1" y1="-1" x2="-1" y2="1" stroke="#111" stroke-width="0.4"/><ellipse cx="1.6" cy="0" rx="1.4" ry="1.9" fill="#4a4a4a" stroke="#111" stroke-width="0.7"/></g>
<g transform="translate(205.50,192.50) rotate(22) scale(1.0)"><rect x="-3.5" y="-1.05" width="4.1" height="2.1" rx="0.6" fill="#d8d8d8" stroke="#111" stroke-width="0.65"/><line x1="-2.2" y1="-1" x2="-2.2" y2="1" stroke="#111" stroke-width="0.4"/><line x1="-1" y1="-1" x2="-1" y2="1" stroke="#111" stroke-width="0.4"/><ellipse cx="1.6" cy="0" rx="1.4" ry="1.9" fill="#4a4a4a" stroke="#111" stroke-width="0.7"/></g>
<g transform="translate(249.00,193.00) rotate(22) scale(1.0)"><rect x="-3.5" y="-1.05" width="4.1" height="2.1" rx="0.6" fill="#d8d8d8" stroke="#111" stroke-width="0.65"/><line x1="-2.2" y1="-1" x2="-2.2" y2="1" stroke="#111" stroke-width="0.4"/><line x1="-1" y1="-1" x2="-1" y2="1" stroke="#111" stroke-width="0.4"/><ellipse cx="1.6" cy="0" rx="1.4" ry="1.9" fill="#4a4a4a" stroke="#111" stroke-width="0.7"/></g>
<g transform="translate(247.50,205.00) rotate(22) scale(1.0)"><rect x="-3.5" y="-1.05" width="4.1" height="2.1" rx="0.6" fill="#d8d8d8" stroke="#111" stroke-width="0.65"/><line x1="-2.2" y1="-1" x2="-2.2" y2="1" stroke="#111" stroke-width="0.4"/><line x1="-1" y1="-1" x2="-1" y2="1" stroke="#111" stroke-width="0.4"/><ellipse cx="1.6" cy="0" rx="1.4" ry="1.9" fill="#4a4a4a" stroke="#111" stroke-width="0.7"/></g>
<g transform="translate(175.80,221.00) rotate(22) scale(1.0)"><rect x="-3.5" y="-1.05" width="4.1" height="2.1" rx="0.6" fill="#d8d8d8" stroke="#111" stroke-width="0.65"/><line x1="-2.2" y1="-1" x2="-2.2" y2="1" stroke="#111" stroke-width="0.4"/><line x1="-1" y1="-1" x2="-1" y2="1" stroke="#111" stroke-width="0.4"/><ellipse cx="1.6" cy="0" rx="1.4" ry="1.9" fill="#4a4a4a" stroke="#111" stroke-width="0.7"/></g>
<g transform="translate(186.00,223.30) rotate(22) scale(1.0)"><rect x="-3.5" y="-1.05" width="4.1" height="2.1" rx="0.6" fill="#d8d8d8" stroke="#111" stroke-width="0.65"/><line x1="-2.2" y1="-1" x2="-2.2" y2="1" stroke="#111" stroke-width="0.4"/><line x1="-1" y1="-1" x2="-1" y2="1" stroke="#111" stroke-width="0.4"/><ellipse cx="1.6" cy="0" rx="1.4" ry="1.9" fill="#4a4a4a" stroke="#111" stroke-width="0.7"/></g>
<g transform="translate(206.00,215.00) rotate(22) scale(1.0)"><rect x="-3.5" y="-1.05" width="4.1" height="2.1" rx="0.6" fill="#d8d8d8" stroke="#111" stroke-width="0.65"/><line x1="-2.2" y1="-1" x2="-2.2" y2="1" stroke="#111" stroke-width="0.4"/><line x1="-1" y1="-1" x2="-1" y2="1" stroke="#111" stroke-width="0.4"/><ellipse cx="1.6" cy="0" rx="1.4" ry="1.9" fill="#4a4a4a" stroke="#111" stroke-width="0.7"/></g>
<g transform="translate(210.00,235.00) rotate(22) scale(1.0)"><rect x="-3.5" y="-1.05" width="4.1" height="2.1" rx="0.6" fill="#d8d8d8" stroke="#111" stroke-width="0.65"/><line x1="-2.2" y1="-1" x2="-2.2" y2="1" stroke="#111" stroke-width="0.4"/><line x1="-1" y1="-1" x2="-1" y2="1" stroke="#111" stroke-width="0.4"/><ellipse cx="1.6" cy="0" rx="1.4" ry="1.9" fill="#4a4a4a" stroke="#111" stroke-width="0.7"/></g>
<g transform="translate(218.00,237.00) rotate(22) scale(1.0)"><rect x="-3.5" y="-1.05" width="4.1" height="2.1" rx="0.6" fill="#d8d8d8" stroke="#111" stroke-width="0.65"/><line x1="-2.2" y1="-1" x2="-2.2" y2="1" stroke="#111" stroke-width="0.4"/><line x1="-1" y1="-1" x2="-1" y2="1" stroke="#111" stroke-width="0.4"/><ellipse cx="1.6" cy="0" rx="1.4" ry="1.9" fill="#4a4a4a" stroke="#111" stroke-width="0.7"/></g>
<path d="M232.00,225.50 L237.00,224.00 L238.80,228.80 L233.50,230.30 Z" fill="#eee" stroke="#222" stroke-width="0.7" stroke-linejoin="round" stroke-linecap="round" />
<circle cx="235.3" cy="227.2" r="0.8" fill="#222"/>
<path d="M247.70,231.00 L279.30,244.10 L278.60,246.00 L247.00,232.90 Z" fill="#fff" stroke="#111" stroke-width="0.8" stroke-linejoin="round" stroke-linecap="round" />
<circle cx="279.7" cy="245.4" r="1.7" fill="#444" stroke="#111" stroke-width="0.7"/>
<path d="M187.60,254.30 L192.30,257.30" fill="none" stroke="#111" stroke-width="2.0" stroke-linecap="butt"/>
<path d="M187.60,254.30 L192.30,257.30" fill="none" stroke="#888" stroke-width="0.8" stroke-dasharray="0.45 0.8" stroke-linecap="butt"/>
<path d="M196.90,252.50 L198.80,249.00 L201.30,248.50 L202.60,250.20 L202.40,254.00 L199.60,255.30 L197.20,254.50 Z" fill="#fafafa" stroke="#808080" stroke-width="0.9" stroke-linejoin="round" stroke-linecap="round" />
<path d="M201.80,254.30 L215.50,261.70" fill="none" stroke="#808080" stroke-width="0.8" />
<path d="M202.60,252.80 L216.30,260.00" fill="none" stroke="#808080" stroke-width="0.7" />
<path d="M215.00,262.00 L217.00,258.80 L219.50,258.30 L220.80,260.00 L220.50,263.80 L217.80,265.00 L215.40,264.20 Z" fill="#fafafa" stroke="#808080" stroke-width="0.9" stroke-linejoin="round" stroke-linecap="round" />
<path d="M206.00,267.30 L210.60,264.50" fill="none" stroke="#111" stroke-width="2.0" stroke-linecap="butt"/>
<path d="M206.00,267.30 L210.60,264.50" fill="none" stroke="#888" stroke-width="0.8" stroke-dasharray="0.45 0.8" stroke-linecap="butt"/>
<path d="M41.60,250.80 L41.30,245.60 L44.60,243.50 L48.80,246.60 L50.40,250.50 L51.80,255.00" fill="none" stroke="#1a1a1a" stroke-width="2.3" stroke-linejoin="round" stroke-linecap="round" />
<path d="M41.60,250.30 L41.30,245.60 L44.60,243.50 L48.80,246.60 L50.40,250.50 L51.70,254.50" fill="none" stroke="#ddd" stroke-width="0.6" stroke-linejoin="round" stroke-linecap="round" />
<path d="M43.90,271.90 L47.50,269.50 L51.00,268.00 L56.90,270.30 L59.70,266.20 L70.00,257.20 L78.80,250.10 L83.30,244.80 L90.30,238.20 L95.60,236.80 L100.00,234.20 L105.30,235.50 L110.20,237.70 L111.10,241.30 L114.20,245.20 L108.90,250.50 L102.70,256.70 L101.40,257.20 L95.60,253.60 L94.70,254.50 L93.00,263.30 L90.30,266.90 L89.50,271.50 L88.70,274.60 L74.60,285.60 L62.80,288.50 L62.40,290.50 L59.20,293.50 L52.50,289.90 L45.90,285.20 Z" fill="#fbfbfb" stroke="#111" stroke-width="1.4" stroke-linejoin="round" stroke-linecap="round" />
<path d="M56.90,270.30 L58.30,274.00 L59.20,293.00" fill="none" stroke="#111" stroke-width="1.1" />
<path d="M61.20,277.80 L62.40,288.80" fill="none" stroke="#111" stroke-width="1.1" />
<path d="M51.00,268.00 L51.80,289.50" fill="none" stroke="#111" stroke-width="1.1" />
<path d="M48.00,269.30 L48.60,287.30" fill="none" stroke="#111" stroke-width="1.1" />
<path d="M54.00,269.30 L54.60,291.00" fill="none" stroke="#111" stroke-width="1.1" />
<path d="M44.30,276.00 L51.50,277.50" fill="none" stroke="#111" stroke-width="1.1" />
<path d="M45.00,280.50 L51.70,282.50" fill="none" stroke="#111" stroke-width="1.1" />
<path d="M45.60,284.50 L52.00,287.00" fill="none" stroke="#111" stroke-width="1.1" />
<path d="M54.40,277.00 L58.60,278.00" fill="none" stroke="#111" stroke-width="1.1" />
<path d="M54.60,285.00 L58.90,286.50" fill="none" stroke="#111" stroke-width="1.1" />
<path d="M58.30,274.00 L62.80,272.00" fill="none" stroke="#111" stroke-width="1.1" />
<path d="M59.70,268.30 L70.00,259.50 L79.00,252.30 L84.00,246.70 L90.50,240.60 L96.00,239.00" fill="none" stroke="#111" stroke-width="1.1" />
<path d="M60.80,270.80 L71.00,262.00 L80.20,254.80 L85.50,249.00" fill="none" stroke="#111" stroke-width="1.1" />
<path d="M62.30,271.30 L79.80,259.30" fill="none" stroke="#111" stroke-width="1.1" />
<path d="M66.00,262.80 L68.00,266.80" fill="none" stroke="#111" stroke-width="1.1" />
<path d="M70.00,259.50 L72.00,263.50" fill="none" stroke="#111" stroke-width="1.1" />
<path d="M74.00,256.30 L76.00,260.30" fill="none" stroke="#111" stroke-width="1.1" />
<path d="M78.00,253.20 L80.00,257.20" fill="none" stroke="#111" stroke-width="1.1" />
<path d="M82.00,248.80 L84.30,252.80" fill="none" stroke="#111" stroke-width="1.1" />
<path d="M63.60,283.80 L70.50,281.70 L82.50,273.50 L88.50,269.50" fill="none" stroke="#111" stroke-width="1.1" />
<path d="M63.20,286.20 L72.50,283.70 L85.50,274.60 L89.30,271.80" fill="none" stroke="#111" stroke-width="1.1" />
<path d="M69.90,280.10 L74.60,285.60" fill="none" stroke="#111" stroke-width="1.1" />
<path d="M81.60,269.90 L88.70,274.60" fill="none" stroke="#111" stroke-width="1.1" />
<path d="M81.60,269.90 L84.50,263.00 L88.00,258.50 L94.70,254.50" fill="none" stroke="#111" stroke-width="1.1" />
<path d="M85.50,249.00 L90.50,252.00 L95.60,253.60" fill="none" stroke="#111" stroke-width="1.1" />
<path d="M87.50,245.50 L93.50,249.30 L98.00,250.80" fill="none" stroke="#111" stroke-width="1.1" />
<path d="M87.70,255.00 L88.30,267.50" fill="none" stroke="#111" stroke-width="1.1" />
<path d="M90.00,254.50 L90.30,266.90" fill="none" stroke="#111" stroke-width="1.1" />
<path d="M92.00,254.00 L92.00,264.50" fill="none" stroke="#111" stroke-width="1.1" />
<path d="M86.00,262.00 L93.00,258.50" fill="none" stroke="#111" stroke-width="1.1" />
<path d="M86.00,265.00 L92.50,261.50" fill="none" stroke="#111" stroke-width="1.1" />
<path d="M86.20,268.00 L91.30,265.30" fill="none" stroke="#111" stroke-width="1.1" />
<path d="M95.60,236.80 L97.50,241.00 L109.50,243.50 L111.10,241.30" fill="none" stroke="#111" stroke-width="1.1" />
<path d="M100.00,234.20 L101.50,238.00 L110.00,240.00 L110.20,237.70" fill="none" stroke="#111" stroke-width="1.1" />
<path d="M101.50,238.00 L100.50,241.60" fill="none" stroke="#111" stroke-width="1.1" />
<path d="M97.50,241.00 L96.30,245.50" fill="none" stroke="#111" stroke-width="1.1" />
<path d="M105.30,235.50 L105.50,239.00" fill="none" stroke="#111" stroke-width="1.1" />
<path d="M90.30,238.20 L92.50,243.00 L96.30,245.50 L108.90,244.30" fill="none" stroke="#111" stroke-width="1.1" />
<path d="M92.50,243.00 L90.50,247.50" fill="none" stroke="#111" stroke-width="1.1" />
<path d="M99.00,243.00 L103.00,244.00" fill="none" stroke="#111" stroke-width="1.1" />
<path d="M95.60,252.70 L108.90,244.30 L114.20,245.20" fill="none" stroke="#111" stroke-width="1.1" />
<path d="M95.60,252.70 L95.60,253.60" fill="none" stroke="#111" stroke-width="1.1" />
<path d="M101.40,257.20 L101.20,255.60 L113.00,246.00" fill="none" stroke="#111" stroke-width="1.1" />
<path d="M83.30,244.80 L85.50,249.00" fill="none" stroke="#111" stroke-width="1.1" />
<path d="M80.10,260.90 L84.50,263.00" fill="none" stroke="#111" stroke-width="1.1" />
<path d="M62.80,272.00 L80.10,260.90 L81.60,269.90 L69.90,280.10 L63.60,282.10 Z" fill="#fff" stroke="#111" stroke-width="1.3" stroke-linejoin="round" stroke-linecap="round" />
<path d="M64.50,274.50 L66.00,275.20" fill="none" stroke="#111" stroke-width="0.9" />
<path d="M69.50,270.00 L71.00,270.70" fill="none" stroke="#111" stroke-width="0.9" />
<path d="M48.60,272.50 L51.50,273.30 L51.80,287.50 L48.80,285.80 Z" fill="#444" stroke="#111" stroke-width="0.6" stroke-linejoin="round" stroke-linecap="round" />
<path d="M54.60,279.00 L58.60,280.00 L58.90,285.00 L54.70,284.00 Z" fill="#fff" stroke="#111" stroke-width="0.6" stroke-linejoin="round" stroke-linecap="round" />
<path d="M87.70,255.00 L92.00,254.00 L92.30,264.50 L88.30,267.50 Z" fill="#555" stroke="#111" stroke-width="0.6" stroke-linejoin="round" stroke-linecap="round" />
<path d="M98.30,241.80 L103.50,242.80 L103.00,245.20 L98.00,244.30 Z" fill="#333" stroke="#111" stroke-width="0.6" stroke-linejoin="round" stroke-linecap="round" />
<path d="M101.80,236.00 L105.20,236.80 L105.20,238.80 L101.80,238.00 Z" fill="#555" stroke="#111" stroke-width="0.5" stroke-linejoin="round" stroke-linecap="round" />
<path d="M115.30,264.30 L124.80,268.90 L124.80,288.00 L115.60,283.40 Z" fill="#cdcdcd" stroke="#222" stroke-width="1.0" stroke-linejoin="round" stroke-linecap="round" />
<circle cx="132.8" cy="271.6" r="1.1" fill="#222"/>
<path d="M145.50,275.20 L147.30,274.40 L156.90,278.60 L156.30,280.20 L151.50,279.30 L150.60,282.20 L149.20,281.80 L149.30,278.60 L146.30,277.20 Z" fill="#555" stroke="#111" stroke-width="0.9" stroke-linejoin="round" stroke-linecap="round" />
<path d="M164.00,281.60 L165.40,284.40" fill="none" stroke="#111" stroke-width="2.0" />
<path d="M164.00,281.60 L165.40,284.40" fill="none" stroke="#999" stroke-width="0.5" stroke-dasharray="0.6 0.6"/>
<path d="M169.20,301.20 L171.20,300.50 L185.30,292.30 L189.50,292.00 L192.00,293.50 L191.80,297.50 L190.00,298.30 L189.30,296.20 L175.60,304.00 L175.20,306.00 L172.80,306.20 L169.50,304.20 Z" fill="#f4f4f4" stroke="#111" stroke-width="1.0" stroke-linejoin="round" stroke-linecap="round" />
<path d="M171.50,302.50 L186.50,294.00" fill="none" stroke="#222" stroke-width="0.7" />
<path d="M173.50,304.30 L188.30,295.80" fill="none" stroke="#222" stroke-width="0.6" />
<path d="M175.75,300.15 L177.05,302.15" fill="none" stroke="#222" stroke-width="0.6" />
<path d="M179.50,298.00 L180.80,300.00" fill="none" stroke="#222" stroke-width="0.6" />
<path d="M183.25,295.85 L184.55,297.85" fill="none" stroke="#222" stroke-width="0.6" />
<path d="M189.50,292.00 L189.30,296.20" fill="none" stroke="#111" stroke-width="0.7" />
<path d="M186.20,303.60 L188.00,302.90 L195.00,305.30 L199.30,311.60 L197.20,317.00 L195.00,317.60 L190.20,315.60 L187.30,310.00 Z" fill="#777" stroke="#111" stroke-width="1.2" stroke-linejoin="round" stroke-linecap="round" />
<path d="M188.00,305.30 L194.50,307.00 L197.80,312.00 L196.30,315.60 L191.00,314.00 L188.80,310.00 Z" fill="#8c8c8c" stroke="#111" stroke-width="0.6" stroke-linejoin="round" stroke-linecap="round" />
<path d="M187.50,306.80 L196.50,309.00" fill="none" stroke="#ddd" stroke-width="0.6" />
<path d="M187.00,304.90 L195.60,306.90" fill="none" stroke="#222" stroke-width="0.6" />
<path d="M200.30,301.30 L204.60,297.50 L212.40,299.30 L212.40,304.00 L208.30,306.30 L200.30,304.50 Z" fill="#e4e4e4" stroke="#111" stroke-width="0.9" stroke-linejoin="round" stroke-linecap="round" />
<path d="M204.60,297.50 L204.90,301.80 L212.40,304.00" fill="none" stroke="#111" stroke-width="0.7" stroke-linejoin="round" stroke-linecap="round" />
<path d="M200.30,304.50 L204.90,301.80" fill="none" stroke="#111" stroke-width="0.7" />
<path d="M205.80,297.90 L211.50,299.20 L211.50,302.30 L205.80,300.80 Z" fill="#3a3a3a" stroke="#111" stroke-width="0.5" stroke-linejoin="round" stroke-linecap="round" />
<path d="M200.50,302.80 L203.00,301.00" fill="none" stroke="#111" stroke-width="1.2" />
<path d="M202.00,304.60 L204.50,303.00" fill="none" stroke="#111" stroke-width="1.0" />
<path d="M214.30,307.20 L221.00,302.50 L229.00,304.20 L229.00,308.00 L223.30,310.60 L214.30,309.20 Z" fill="#e4e4e4" stroke="#111" stroke-width="0.9" stroke-linejoin="round" stroke-linecap="round" />
<path d="M221.00,302.50 L221.40,306.20 L229.00,308.00" fill="none" stroke="#111" stroke-width="0.7" stroke-linejoin="round" stroke-linecap="round" />
<path d="M214.30,309.20 L221.40,306.20" fill="none" stroke="#111" stroke-width="0.7" />
<path d="M222.30,303.10 L228.00,304.40 L228.00,306.60 L222.30,305.30 Z" fill="#3a3a3a" stroke="#111" stroke-width="0.5" stroke-linejoin="round" stroke-linecap="round" />
<path d="M216.00,308.20 L220.00,306.00" fill="none" stroke="#111" stroke-width="1.0" />
<path d="M346.30,241.80 C348.17,238.77 349.42,238.93 352.50,239.30 C355.58,239.67 361.72,242.00 364.80,244.00 C367.88,246.00 370.13,248.30 371.00,251.30 C371.87,254.30 370.47,258.92 370.00,262.00 C369.53,265.08 369.35,267.28 368.20,269.80 C367.05,272.32 364.97,275.78 363.10,277.10 C361.23,278.42 357.93,278.92 357.00,277.70 C356.07,276.48 358.07,271.95 357.50,269.80 C356.93,267.65 355.08,265.68 353.60,264.80 C352.12,263.92 349.82,263.47 348.60,264.50 C347.38,265.53 347.33,269.92 346.30,271.00 C345.27,272.08 343.42,271.75 342.40,271.00 C341.38,270.25 340.38,268.75 340.20,266.50 C340.02,264.25 340.28,261.62 341.30,257.50 C342.32,253.38 344.43,244.83 346.30,241.80 Z" fill="#f0f0f0" stroke="#111" stroke-width="1.5" stroke-linejoin="round" stroke-linecap="round" />
<path d="M343.00,258.00 C343.75,255.75 345.92,247.25 347.50,244.50 C349.08,241.75 349.75,241.28 352.50,241.50 C355.25,241.72 361.22,244.05 364.00,245.80 C366.78,247.55 368.48,249.30 369.20,252.00 C369.92,254.70 368.75,259.08 368.30,262.00 C367.85,264.92 366.80,268.25 366.50,269.50" fill="none" stroke="#111" stroke-width="0.7" stroke-linejoin="round" stroke-linecap="round" />
<path d="M344.80,257.80 C345.55,256.00 347.97,249.22 349.30,247.00 C350.63,244.78 350.43,244.25 352.80,244.50 C355.17,244.75 361.08,247.08 363.50,248.50 C365.92,249.92 366.83,250.37 367.30,253.00 C367.77,255.63 366.47,262.42 366.30,264.30" fill="none" stroke="#111" stroke-width="0.9" stroke-linejoin="round" stroke-linecap="round" />
<path d="M344.50,257.60 L366.30,264.60" fill="none" stroke="#111" stroke-width="0.8" />
<path d="M343.30,259.60 L365.80,266.80" fill="none" stroke="#333" stroke-width="0.6" />
<ellipse cx="353.40" cy="255.00" rx="1.15" ry="1.0" fill="#111"/>
<ellipse cx="355.75" cy="255.75" rx="1.15" ry="1.0" fill="#111"/>
<ellipse cx="358.10" cy="256.50" rx="1.15" ry="1.0" fill="#111"/>
<ellipse cx="360.45" cy="257.25" rx="1.15" ry="1.0" fill="#111"/>
<ellipse cx="362.80" cy="258.00" rx="1.15" ry="1.0" fill="#111"/>
<path d="M342.40,271.00 C342.72,270.08 343.27,266.95 344.30,265.50 C345.33,264.05 346.93,262.75 348.60,262.30 C350.27,261.85 352.57,261.93 354.30,262.80 C356.03,263.67 358.17,265.08 359.00,267.50 C359.83,269.92 359.25,275.67 359.30,277.30" fill="none" stroke="#111" stroke-width="0.7" stroke-linejoin="round" stroke-linecap="round" />
<path d="M346.30,271.00 C346.50,270.25 347.30,267.25 347.50,266.50" fill="none" stroke="#111" stroke-width="0.6" stroke-linejoin="round" stroke-linecap="round" />
<path d="M343.00,267.00 L346.00,268.00" fill="none" stroke="#111" stroke-width="0.6" />
<path d="M358.20,273.50 L362.50,274.30" fill="none" stroke="#111" stroke-width="0.6" />
<defs><linearGradient id="mg" x1="0" x2="1"><stop offset="0" stop-color="#c8c8c8"/><stop offset="0.18" stop-color="#fff"/><stop offset="0.8" stop-color="#fff"/><stop offset="1" stop-color="#ccc"/></linearGradient></defs>
<path d="M273.5,282.5 L273.5,298 Q281,303.3 288.6,298 L288.6,282.5 Z" fill="url(#mg)" stroke="#111" stroke-width="1.0"/>
<path d="M275.70,284.50 L275.70,299.30" fill="none" stroke="#666" stroke-width="0.5" />
<path d="M273.5,277.3 L273.5,282.8 Q281,287.8 288.6,282.8 L288.6,277.3 Q281,271.8 273.5,277.3 Z" fill="#e2e2e2" stroke="#111" stroke-width="1.0"/>
<path d="M273.5,280.2 Q281,285.2 288.6,280.2" fill="none" stroke="#111" stroke-width="0.9"/>
<ellipse cx="281.00" cy="277.30" rx="6.2" ry="2.6" fill="#f4f4f4" stroke="#111" stroke-width="0.9"/>
<ellipse cx="281.20" cy="277.30" rx="3.6" ry="1.4" fill="#999" stroke="#111" stroke-width="1.0"/>
<path d="M276,276.2 L276.6,274 L278.3,274.6" fill="none" stroke="#111" stroke-width="0.9"/><rect x="284.6" y="275.3" width="2.6" height="1.8" fill="#222"/><rect x="276.5" y="277.8" width="2" height="1.5" fill="#222"/>
<path d="M277.00,281.70 L277.00,283.60" fill="none" stroke="#111" stroke-width="0.8" />
<path d="M281.00,282.60 L281.00,284.50" fill="none" stroke="#111" stroke-width="0.8" />
<path d="M285.00,281.70 L285.00,283.60" fill="none" stroke="#111" stroke-width="0.8" />
<path d="M281.20,301.50 L281.20,303.60" fill="none" stroke="#222" stroke-width="1.0" />
<rect x="278.1" y="311" width="5.6" height="5.2" rx="1.2" fill="#3c3c3c" stroke="#111" stroke-width="0.9"/>
<path d="M279.50,311.60 L279.50,315.60" fill="none" stroke="#888" stroke-width="0.4" />
<path d="M281.00,311.60 L281.00,315.60" fill="none" stroke="#888" stroke-width="0.4" />
<path d="M282.50,311.60 L282.50,315.60" fill="none" stroke="#888" stroke-width="0.4" />
<ellipse cx="280.90" cy="311.80" rx="2.3" ry="0.8" fill="#666" stroke="#111" stroke-width="0.5"/>
<g transform="translate(295.00,327.50) rotate(22) scale(1.0)"><rect x="-3.5" y="-1.05" width="4.1" height="2.1" rx="0.6" fill="#d8d8d8" stroke="#111" stroke-width="0.65"/><line x1="-2.2" y1="-1" x2="-2.2" y2="1" stroke="#111" stroke-width="0.4"/><line x1="-1" y1="-1" x2="-1" y2="1" stroke="#111" stroke-width="0.4"/><ellipse cx="1.6" cy="0" rx="1.4" ry="1.9" fill="#4a4a4a" stroke="#111" stroke-width="0.7"/></g>
<path d="M267.30,338.70 L268.40,336.30 L273.10,333.40 L280.70,331.70 L288.80,331.70 L294.70,333.40 L300.50,332.30 L308.70,331.70 L316.80,329.90 L319.20,327.60 L325.00,328.20 L332.00,331.70 L334.30,334.60 L332.00,339.80 L329.70,345.10 L326.80,345.10 L325.60,342.20 L316.80,343.90 L315.70,346.30 L312.20,349.20 L299.30,352.10 L297.00,353.80 L283.00,355.60 L273.70,353.30 L267.80,348.60 Z" fill="#fafafa" stroke="#111" stroke-width="1.2" stroke-linejoin="round" stroke-linecap="round" />
<path d="M294.70,333.40 C295.92,333.17 299.78,332.07 302.00,332.00 C304.22,331.93 306.30,332.08 308.00,333.00 C309.70,333.92 311.32,335.78 312.20,337.50 C313.08,339.22 313.30,341.45 313.30,343.30 C313.30,345.15 312.38,347.72 312.20,348.60" fill="none" stroke="#111" stroke-width="0.9" stroke-linejoin="round" stroke-linecap="round" />
<path d="M267.50,343.00 C267.92,343.55 268.00,345.08 270.00,346.30 C272.00,347.52 276.50,349.58 279.50,350.30 C282.50,351.02 285.28,350.88 288.00,350.60 C290.72,350.32 292.97,349.23 295.80,348.60 C298.63,347.97 302.47,347.38 305.00,346.80 C307.53,346.22 309.62,345.68 311.00,345.10 C312.38,344.52 312.92,343.60 313.30,343.30" fill="none" stroke="#111" stroke-width="0.8" stroke-linejoin="round" stroke-linecap="round" />
<path d="M267.80,346.00 C268.50,346.63 269.80,348.63 272.00,349.80 C274.20,350.97 277.50,352.47 281.00,353.00 C284.50,353.53 290.33,353.25 293.00,353.00 C295.67,352.75 296.33,351.75 297.00,351.50" fill="none" stroke="#111" stroke-width="0.7" stroke-linejoin="round" stroke-linecap="round" />
<path d="M297.00,348.50 L297.00,353.80" fill="none" stroke="#111" stroke-width="0.8" />
<path d="M294.80,349.00 L294.80,354.00" fill="none" stroke="#111" stroke-width="0.7" />
<ellipse cx="281.30" cy="337.30" rx="9.6" ry="5.0" fill="#f0f0f0" stroke="#111" stroke-width="1.1" transform="rotate(-3 281.3 337.3)"/>
<ellipse cx="281.00" cy="337.80" rx="7.4" ry="3.7" fill="#dcdcdc" stroke="#111" stroke-width="0.9" transform="rotate(-3 281.0 337.8)"/>
<path d="M280.00,338.30 L285.00,336.30 L292.50,336.00 L295.00,338.50 L294.00,341.80 L286.50,343.00 L281.00,341.50 Z" fill="#1e1e1e" stroke="#111" stroke-width="0.8" stroke-linejoin="round" stroke-linecap="round" />
<path d="M283.00,340.00 L293.50,338.20" fill="none" stroke="#ddd" stroke-width="0.6" />
<path d="M284.00,341.50 L292.50,340.30" fill="none" stroke="#999" stroke-width="0.5" />
<path d="M272.80,333.50 L273.30,336.00 L275.50,335.00" fill="none" stroke="#111" stroke-width="0.7" stroke-linejoin="round" stroke-linecap="round" />
<path d="M288.80,331.70 L289.30,334.20 L292.00,333.30" fill="none" stroke="#111" stroke-width="0.7" stroke-linejoin="round" stroke-linecap="round" />
<path d="M268.40,336.30 L270.00,338.50 L272.00,337.30" fill="none" stroke="#111" stroke-width="0.7" stroke-linejoin="round" stroke-linecap="round" />
<path d="M295.00,338.50 C295.50,338.42 297.42,337.58 298.00,338.00 C298.58,338.42 298.50,339.33 298.50,341.00 C298.50,342.67 298.08,346.83 298.00,348.00" fill="none" stroke="#111" stroke-width="0.7" stroke-linejoin="round" stroke-linecap="round" />
<path d="M308.70,331.70 L313.00,333.00" fill="none" stroke="#111" stroke-width="0.7" />
<path d="M313.30,332.30 L316.80,343.60" fill="none" stroke="#111" stroke-width="0.7" />
<path d="M316.80,329.90 L320.50,343.30" fill="none" stroke="#111" stroke-width="0.7" />
<path d="M311.00,331.20 L315.00,334.00" fill="none" stroke="#111" stroke-width="0.7" />
<path d="M313.30,338.00 L325.80,336.30" fill="none" stroke="#111" stroke-width="0.6" />
<path d="M319.20,327.60 L325.00,328.20 L332.00,331.70 L334.30,334.60 L332.00,339.80 L329.70,345.10 L326.80,345.10 L325.60,342.20 L327.30,335.20 L320.30,330.50 Z" fill="#e8e8e8" stroke="#111" stroke-width="1.0" stroke-linejoin="round" stroke-linecap="round" />
<path d="M330.20,334.90 L334.30,334.60 L332.00,339.80 L329.70,345.10 L328.30,345.10 L328.80,340.00 Z" fill="#4a4a4a" stroke="#111" stroke-width="0.7" stroke-linejoin="round" stroke-linecap="round" />
<path d="M327.30,335.20 L334.30,334.60" fill="none" stroke="#111" stroke-width="0.7" />
<path d="M320.30,330.50 L319.20,327.60" fill="none" stroke="#111" stroke-width="0.7" />
<g transform="translate(341.50,347.30) rotate(22) scale(1.0)"><rect x="-3.5" y="-1.05" width="4.1" height="2.1" rx="0.6" fill="#d8d8d8" stroke="#111" stroke-width="0.65"/><line x1="-2.2" y1="-1" x2="-2.2" y2="1" stroke="#111" stroke-width="0.4"/><line x1="-1" y1="-1" x2="-1" y2="1" stroke="#111" stroke-width="0.4"/><ellipse cx="1.6" cy="0" rx="1.4" ry="1.9" fill="#4a4a4a" stroke="#111" stroke-width="0.7"/></g>
<path d="M275.9,367.8 L275.9,366.0 L277.2,364.2 L278.5,366.0 L278.5,367.8 Z" fill="#555" stroke="#111" stroke-width="0.6"/>
<path d="M283.0,369.6 L283.0,367.8 L284.3,366 L285.6,367.8 L285.6,369.6 Z" fill="#555" stroke="#111" stroke-width="0.6"/>
<ellipse cx="298.1" cy="370.7" rx="1.7" ry="0.9" fill="#333" stroke="#111" stroke-width="0.4"/>
<ellipse cx="287.60" cy="372.60" rx="3.5" ry="1.5" fill="#eee" stroke="#222" stroke-width="0.8"/>
<ellipse cx="287.60" cy="372.60" rx="1.5" ry="0.6" fill="#777" stroke="#222" stroke-width="0.6"/>
<path d="M280.1,379.6 L280.1,382.6 A7.5,2.9 0 0 0 295.1,382.6 L295.1,379.6 Z" fill="#1c1c1c" stroke="#111" stroke-width="0.7"/>
<path d="M281.00,381.60 L281.00,383.81" fill="none" stroke="#999" stroke-width="0.4" />
<path d="M282.50,381.60 L282.50,384.03" fill="none" stroke="#999" stroke-width="0.4" />
<path d="M284.00,381.60 L284.00,384.25" fill="none" stroke="#999" stroke-width="0.4" />
<path d="M285.50,381.60 L285.50,384.47" fill="none" stroke="#999" stroke-width="0.4" />
<path d="M287.00,381.60 L287.00,384.69" fill="none" stroke="#999" stroke-width="0.4" />
<path d="M288.50,381.60 L288.50,384.69" fill="none" stroke="#999" stroke-width="0.4" />
<path d="M290.00,381.60 L290.00,384.47" fill="none" stroke="#999" stroke-width="0.4" />
<path d="M291.50,381.60 L291.50,384.25" fill="none" stroke="#999" stroke-width="0.4" />
<path d="M293.00,381.60 L293.00,384.03" fill="none" stroke="#999" stroke-width="0.4" />
<path d="M294.50,381.60 L294.50,383.81" fill="none" stroke="#999" stroke-width="0.4" />
<ellipse cx="287.60" cy="379.60" rx="7.5" ry="2.8" fill="#bdbdbd" stroke="#111" stroke-width="0.9"/>
<ellipse cx="287.60" cy="379.50" rx="5.2" ry="1.8" fill="#555" stroke="#111" stroke-width="0.7"/>
<ellipse cx="287.60" cy="379.40" rx="2.4" ry="0.9" fill="#222" stroke="#ddd" stroke-width="0.5"/>
<rect x="285.4" y="385" width="4.4" height="2.6" rx="0.6" fill="#444" stroke="#111" stroke-width="0.6"/>
<ellipse cx="298.3" cy="389.8" rx="1.8" ry="0.95" fill="#222"/>
<ellipse cx="287.10" cy="396.70" rx="3.2" ry="1.4" fill="#ddd" stroke="#222" stroke-width="0.8"/>
<ellipse cx="287.10" cy="396.70" rx="1.3" ry="0.5" fill="#666" stroke="#222" stroke-width="0.5"/>
<path d="M269.90,407.90 L284.00,400.10 L299.70,396.90 L323.30,392.20 L324.10,395.40 L329.60,395.40 L328.80,400.90 L324.90,406.40 L317.00,408.70 L309.20,414.20 L293.40,417.40 L282.40,414.20 Z" fill="#fbfbfb" stroke="#111" stroke-width="1.3" stroke-linejoin="round" stroke-linecap="round" />
<path d="M269.90,407.90 L284.00,400.10 L299.70,396.90 L323.30,392.20 L324.10,395.40 L328.00,396.90 L323.30,401.70 L316.20,406.40 L309.20,409.50 L295.80,411.10 L285.60,411.90 L271.40,408.40 Z" fill="#dedede" stroke="#111" stroke-width="1.0" stroke-linejoin="round" stroke-linecap="round" />
<path d="M304.60,397.20 L307.00,396.70 L306.70,401.50 L304.30,402.00 Z" fill="#fff" stroke="#111" stroke-width="0.8" stroke-linejoin="miter" stroke-linecap="round" />
<path d="M308.00,396.48 L310.40,395.98 L310.10,400.78 L307.70,401.28 Z" fill="#fff" stroke="#111" stroke-width="0.8" stroke-linejoin="miter" stroke-linecap="round" />
<path d="M311.40,395.76 L313.80,395.26 L313.50,400.06 L311.10,400.56 Z" fill="#fff" stroke="#111" stroke-width="0.8" stroke-linejoin="miter" stroke-linecap="round" />
<path d="M314.80,395.04 L317.20,394.54 L316.90,399.34 L314.50,399.84 Z" fill="#fff" stroke="#111" stroke-width="0.8" stroke-linejoin="miter" stroke-linecap="round" />
<path d="M318.20,394.32 L320.60,393.82 L320.30,398.62 L317.90,399.12 Z" fill="#fff" stroke="#111" stroke-width="0.8" stroke-linejoin="miter" stroke-linecap="round" />
<path d="M285.60,411.90 L293.40,417.40" fill="none" stroke="#111" stroke-width="0.9" />
<path d="M309.20,409.50 L309.20,414.20" fill="none" stroke="#111" stroke-width="0.9" />
<path d="M316.20,406.40 L317.00,408.70" fill="none" stroke="#111" stroke-width="0.9" />
<path d="M323.30,401.70 L324.90,406.40" fill="none" stroke="#111" stroke-width="0.9" />
<path d="M273.00,407.30 L286.00,402.30 L299.00,400.10 L302.00,404.70" fill="none" stroke="#111" stroke-width="0.9" />
<path d="M277.00,409.30 L290.00,406.80 L300.00,407.50 L303.50,404.20" fill="none" stroke="#111" stroke-width="0.9" />
<path d="M286.00,402.30 L288.00,407.30" fill="none" stroke="#111" stroke-width="0.9" />
<path d="M293.00,401.00 L294.50,406.50" fill="none" stroke="#111" stroke-width="0.9" />
<path d="M276.00,405.60 L279.00,409.50" fill="none" stroke="#111" stroke-width="0.9" />
<path d="M295.80,411.10 L296.80,416.60" fill="none" stroke="#111" stroke-width="0.9" />
<path d="M302.00,404.70 L322.00,399.70" fill="none" stroke="#111" stroke-width="0.9" />
<path d="M274.50,408.60 L286.00,410.30 L296.00,409.50 L309.00,407.70 L316.00,404.50 L322.50,400.50" fill="none" stroke="#111" stroke-width="0.9" />
<path d="M280.50,404.30 L283.00,409.80" fill="none" stroke="#111" stroke-width="0.9" />
<path d="M298.00,400.30 L300.50,407.50" fill="none" stroke="#111" stroke-width="0.9" />
<path d="M284.00,400.10 L286.00,402.30" fill="none" stroke="#111" stroke-width="0.9" />
<path d="M303.50,404.20 L309.00,407.70" fill="none" stroke="#111" stroke-width="0.9" />
<path d="M283.30,401.20 L289.50,399.50 L290.50,402.20 L284.50,403.80 Z" fill="#222" stroke="#111" stroke-width="0.6" stroke-linejoin="round" stroke-linecap="round" />
<path d="M290.50,404.80 L297.00,403.40 L298.00,406.30 L291.50,407.50 Z" fill="#555" stroke="#111" stroke-width="0.6" stroke-linejoin="round" stroke-linecap="round" />
<path d="M276.50,406.50 L280.00,405.30 L281.50,408.30 L278.00,409.20 Z" fill="#444" stroke="#111" stroke-width="0.5" stroke-linejoin="round" stroke-linecap="round" />
<g transform="translate(281.20,422.30)"><rect x="-1" y="-3.4" width="2" height="4.4" rx="0.8" fill="#ddd" stroke="#222" stroke-width="0.6"/><ellipse cx="0" cy="2" rx="1.7" ry="1.4" fill="#666" stroke="#111" stroke-width="0.6"/></g>
<g transform="translate(296.60,424.60)"><rect x="-1" y="-3.4" width="2" height="4.4" rx="0.8" fill="#ddd" stroke="#222" stroke-width="0.6"/><ellipse cx="0" cy="2" rx="1.7" ry="1.4" fill="#666" stroke="#111" stroke-width="0.6"/></g>
<g transform="translate(308.80,421.50)"><rect x="-1" y="-3.4" width="2" height="4.4" rx="0.8" fill="#ddd" stroke="#222" stroke-width="0.6"/><ellipse cx="0" cy="2" rx="1.7" ry="1.4" fill="#666" stroke="#111" stroke-width="0.6"/></g>
<g transform="translate(317.30,421.50)"><rect x="-1" y="-3.4" width="2" height="4.4" rx="0.8" fill="#ddd" stroke="#222" stroke-width="0.6"/><ellipse cx="0" cy="2" rx="1.7" ry="1.4" fill="#666" stroke="#111" stroke-width="0.6"/></g>
<circle cx="296" cy="436.3" r="0.5" fill="#999"/>
<path d="M348.50,407.30 L350.90,405.40 L353.60,402.60 L366.10,395.90 L378.80,388.20 L380.60,380.90 L385.50,376.50 L390.30,373.00 L400.00,371.20 L402.70,370.70 L408.90,373.40 L413.30,376.50 L414.20,382.70 L411.50,388.90 L408.90,394.20 L408.00,400.30 L403.60,405.60 L393.50,406.50 L391.30,408.90 L389.00,412.80 L374.10,422.60 L363.90,424.40 L363.50,425.80 L361.90,429.30 L356.00,428.50 L354.80,426.60 L354.40,410.10 L351.70,408.90 Z" fill="#fbfbfb" stroke="#111" stroke-width="1.4" stroke-linejoin="round" stroke-linecap="round" />
<path d="M353.60,402.60 L355.50,406.50 L361.90,409.70 L382.30,396.70" fill="none" stroke="#111" stroke-width="1.1" />
<path d="M362.50,411.30 L382.60,398.40" fill="none" stroke="#111" stroke-width="1.1" />
<path d="M354.40,410.10 L362.70,411.60" fill="none" stroke="#111" stroke-width="1.1" />
<path d="M352.90,406.50 L354.40,410.10" fill="none" stroke="#111" stroke-width="1.1" />
<path d="M350.90,405.40 L352.90,406.50" fill="none" stroke="#111" stroke-width="1.1" />
<path d="M362.70,411.60 L363.50,425.80" fill="none" stroke="#111" stroke-width="1.1" />
<path d="M358.40,410.90 L359.10,428.90" fill="none" stroke="#111" stroke-width="1.1" />
<path d="M356.30,410.50 L356.80,428.50" fill="none" stroke="#111" stroke-width="1.1" />
<path d="M354.80,421.50 L359.00,422.30" fill="none" stroke="#111" stroke-width="1.1" />
<path d="M354.60,416.00 L358.60,416.60" fill="none" stroke="#111" stroke-width="1.1" />
<path d="M363.90,418.70 L370.90,417.10 L374.90,414.80 L381.90,409.30 L387.40,406.90" fill="none" stroke="#111" stroke-width="1.1" />
<path d="M363.90,421.50 L371.70,419.90 L376.40,417.10 L384.30,411.60 L389.00,408.90" fill="none" stroke="#111" stroke-width="1.1" />
<path d="M382.70,398.30 L382.30,406.10" fill="none" stroke="#111" stroke-width="1.1" />
<path d="M385.80,396.50 L387.40,406.10" fill="none" stroke="#111" stroke-width="1.1" />
<path d="M391.30,400.60 L391.30,408.90" fill="none" stroke="#111" stroke-width="1.1" />
<path d="M382.30,396.70 L385.80,396.50 L391.30,400.60" fill="none" stroke="#111" stroke-width="1.1" />
<path d="M387.40,406.10 L391.30,408.90" fill="none" stroke="#111" stroke-width="1.1" />
<path d="M384.00,401.50 L386.00,401.20" fill="none" stroke="#111" stroke-width="1.1" />
<path d="M392.10,396.80 L413.70,384.00" fill="none" stroke="#111" stroke-width="1.1" />
<path d="M392.30,399.00 L412.60,386.60" fill="none" stroke="#111" stroke-width="1.1" />
<path d="M393.90,400.80 L411.50,389.30" fill="none" stroke="#111" stroke-width="1.1" />
<path d="M393.00,403.60 L410.30,392.00" fill="none" stroke="#111" stroke-width="1.1" />
<path d="M395.60,405.80 L408.90,396.50" fill="none" stroke="#111" stroke-width="1.1" />
<path d="M392.10,396.80 L393.50,406.50" fill="none" stroke="#111" stroke-width="1.1" />
<path d="M398.00,393.50 L399.00,406.00" fill="none" stroke="#111" stroke-width="1.1" />
<path d="M403.50,390.20 L404.20,405.00" fill="none" stroke="#111" stroke-width="1.1" />
<path d="M400.00,371.20 L404.50,380.90" fill="none" stroke="#111" stroke-width="1.1" />
<path d="M402.70,370.70 L408.90,380.00" fill="none" stroke="#111" stroke-width="1.1" />
<path d="M408.90,373.40 L412.40,382.70" fill="none" stroke="#111" stroke-width="1.1" />
<path d="M404.50,380.90 L413.30,377.30" fill="none" stroke="#111" stroke-width="1.1" />
<path d="M405.30,385.30 L414.20,382.70" fill="none" stroke="#111" stroke-width="1.1" />
<path d="M404.50,380.90 L405.30,385.30" fill="none" stroke="#111" stroke-width="1.1" />
<path d="M396.00,372.30 L399.50,379.50" fill="none" stroke="#111" stroke-width="1.1" />
<path d="M378.80,388.20 L381.50,392.50 L392.10,396.80" fill="none" stroke="#111" stroke-width="1.1" />
<path d="M380.60,380.90 L383.00,385.00 L381.50,392.50" fill="none" stroke="#111" stroke-width="1.1" />
<path d="M383.00,385.00 L390.00,391.50" fill="none" stroke="#111" stroke-width="1.1" />
<path d="M385.50,376.50 L387.00,379.50" fill="none" stroke="#111" stroke-width="1.1" />
<path d="M378.80,391.20 L382.30,396.70" fill="none" stroke="#111" stroke-width="1.1" />
<path d="M363.50,412.60 L377.00,404.00 L381.30,401.30 L382.10,406.00 L377.00,411.30 L371.00,415.00 L364.10,417.40 Z" fill="#fff" stroke="#111" stroke-width="1.2" stroke-linejoin="round" stroke-linecap="round" />
<path d="M358.10,401.70 C358.20,402.33 358.38,404.82 358.70,405.50 C359.02,406.18 359.60,406.02 360.00,405.80 C360.40,405.58 360.90,405.20 361.10,404.20 C361.30,403.20 361.18,400.53 361.20,399.80" fill="none" stroke="#111" stroke-width="1.25" stroke-linejoin="round" stroke-linecap="round" />
<path d="M362.20,399.30 C362.30,399.93 362.48,402.42 362.80,403.10 C363.12,403.78 363.70,403.62 364.10,403.40 C364.50,403.18 365.00,402.80 365.20,401.80 C365.40,400.80 365.28,398.13 365.30,397.40" fill="none" stroke="#111" stroke-width="1.25" stroke-linejoin="round" stroke-linecap="round" />
<path d="M366.70,396.70 C366.80,397.33 366.98,399.82 367.30,400.50 C367.62,401.18 368.20,401.02 368.60,400.80 C369.00,400.58 369.50,400.20 369.70,399.20 C369.90,398.20 369.78,395.53 369.80,394.80" fill="none" stroke="#111" stroke-width="1.25" stroke-linejoin="round" stroke-linecap="round" />
<path d="M371.10,394.20 C371.20,394.83 371.38,397.32 371.70,398.00 C372.02,398.68 372.60,398.52 373.00,398.30 C373.40,398.08 373.90,397.70 374.10,396.70 C374.30,395.70 374.18,393.03 374.20,392.30" fill="none" stroke="#111" stroke-width="1.25" stroke-linejoin="round" stroke-linecap="round" />
<path d="M375.30,391.80 C375.40,392.43 375.58,394.92 375.90,395.60 C376.22,396.28 376.80,396.12 377.20,395.90 C377.60,395.68 378.10,395.30 378.30,394.30 C378.50,393.30 378.38,390.63 378.40,389.90" fill="none" stroke="#111" stroke-width="1.25" stroke-linejoin="round" stroke-linecap="round" />
<path d="M383.80,379.80 L392.10,387.00" fill="none" stroke="#000" stroke-width="1.9" />
<path d="M386.70,377.30 L395.00,384.50" fill="none" stroke="#000" stroke-width="1.9" />
<path d="M389.60,374.80 L397.90,382.00" fill="none" stroke="#000" stroke-width="1.9" />
<path d="M392.50,372.30 L400.80,379.50" fill="none" stroke="#000" stroke-width="1.9" />
<path d="M383.50,381.50 L394.50,372.30" fill="none" stroke="#111" stroke-width="0.9" />
<path d="M392.00,388.00 L402.50,379.30" fill="none" stroke="#111" stroke-width="0.9" />
<path d="M402.70,370.70 L408.90,373.40 L413.30,376.50 L412.40,382.70 L408.90,380.00 Z" fill="#e2e2e2" stroke="#111" stroke-width="0.9" stroke-linejoin="round" stroke-linecap="round" />
<path d="M404.30,372.60 L408.30,374.40 L409.80,378.60 L406.30,377.20 Z" fill="#444" stroke="#111" stroke-width="0.7" stroke-linejoin="round" stroke-linecap="round" />
<path d="M404.50,380.90 L408.90,380.00 L412.40,382.70 L405.30,385.30 Z" fill="#777" stroke="#111" stroke-width="0.8" stroke-linejoin="round" stroke-linecap="round" />
<path d="M392.10,396.80 L398.00,393.50 L399.00,406.00 L393.50,406.50 Z" fill="#ccc" stroke="#111" stroke-width="0.6" stroke-linejoin="round" stroke-linecap="round" />
<path d="M354.60,422.00 L356.80,422.30 L356.80,428.30 L355.00,427.00 Z" fill="#333" stroke="#111" stroke-width="0.5" stroke-linejoin="round" stroke-linecap="round" />
<path d="M356.30,410.50 L358.40,410.90 L358.80,416.50 L356.50,416.20 Z" fill="#777" stroke="#111" stroke-width="0.5" stroke-linejoin="round" stroke-linecap="round" />
<path d="M348.50,407.30 L350.90,405.40 L352.90,406.50 L351.70,408.90 Z" fill="#ddd" stroke="#111" stroke-width="0.8" stroke-linejoin="round" stroke-linecap="round" />
<g transform="translate(372.50,447.00) rotate(22) scale(1.0)"><rect x="-3.5" y="-1.05" width="4.1" height="2.1" rx="0.6" fill="#d8d8d8" stroke="#111" stroke-width="0.65"/><line x1="-2.2" y1="-1" x2="-2.2" y2="1" stroke="#111" stroke-width="0.4"/><line x1="-1" y1="-1" x2="-1" y2="1" stroke="#111" stroke-width="0.4"/><ellipse cx="1.6" cy="0" rx="1.4" ry="1.9" fill="#4a4a4a" stroke="#111" stroke-width="0.7"/></g>
<g transform="translate(385.00,443.30) rotate(22) scale(1.0)"><rect x="-3.5" y="-1.05" width="4.1" height="2.1" rx="0.6" fill="#d8d8d8" stroke="#111" stroke-width="0.65"/><line x1="-2.2" y1="-1" x2="-2.2" y2="1" stroke="#111" stroke-width="0.4"/><line x1="-1" y1="-1" x2="-1" y2="1" stroke="#111" stroke-width="0.4"/><ellipse cx="1.6" cy="0" rx="1.4" ry="1.9" fill="#4a4a4a" stroke="#111" stroke-width="0.7"/></g>
<g transform="translate(402.50,434.30) rotate(22) scale(1.0)"><rect x="-3.5" y="-1.05" width="4.1" height="2.1" rx="0.6" fill="#d8d8d8" stroke="#111" stroke-width="0.65"/><line x1="-2.2" y1="-1" x2="-2.2" y2="1" stroke="#111" stroke-width="0.4"/><line x1="-1" y1="-1" x2="-1" y2="1" stroke="#111" stroke-width="0.4"/><ellipse cx="1.6" cy="0" rx="1.4" ry="1.9" fill="#4a4a4a" stroke="#111" stroke-width="0.7"/></g>
<g transform="translate(432.00,420.00) rotate(22) scale(1.0)"><rect x="-3.5" y="-1.05" width="4.1" height="2.1" rx="0.6" fill="#d8d8d8" stroke="#111" stroke-width="0.65"/><line x1="-2.2" y1="-1" x2="-2.2" y2="1" stroke="#111" stroke-width="0.4"/><line x1="-1" y1="-1" x2="-1" y2="1" stroke="#111" stroke-width="0.4"/><ellipse cx="1.6" cy="0" rx="1.4" ry="1.9" fill="#4a4a4a" stroke="#111" stroke-width="0.7"/></g>
<g transform="translate(439.30,412.50) rotate(22) scale(1.0)"><rect x="-3.5" y="-1.05" width="4.1" height="2.1" rx="0.6" fill="#d8d8d8" stroke="#111" stroke-width="0.65"/><line x1="-2.2" y1="-1" x2="-2.2" y2="1" stroke="#111" stroke-width="0.4"/><line x1="-1" y1="-1" x2="-1" y2="1" stroke="#111" stroke-width="0.4"/><ellipse cx="1.6" cy="0" rx="1.4" ry="1.9" fill="#4a4a4a" stroke="#111" stroke-width="0.7"/></g>
<g transform="translate(441.80,425.80) rotate(22) scale(1.0)"><rect x="-3.5" y="-1.05" width="4.1" height="2.1" rx="0.6" fill="#d8d8d8" stroke="#111" stroke-width="0.65"/><line x1="-2.2" y1="-1" x2="-2.2" y2="1" stroke="#111" stroke-width="0.4"/><line x1="-1" y1="-1" x2="-1" y2="1" stroke="#111" stroke-width="0.4"/><ellipse cx="1.6" cy="0" rx="1.4" ry="1.9" fill="#4a4a4a" stroke="#111" stroke-width="0.7"/></g>
<g transform="translate(465.00,420.80) rotate(22) scale(1.0)"><rect x="-3.5" y="-1.05" width="4.1" height="2.1" rx="0.6" fill="#d8d8d8" stroke="#111" stroke-width="0.65"/><line x1="-2.2" y1="-1" x2="-2.2" y2="1" stroke="#111" stroke-width="0.4"/><line x1="-1" y1="-1" x2="-1" y2="1" stroke="#111" stroke-width="0.4"/><ellipse cx="1.6" cy="0" rx="1.4" ry="1.9" fill="#4a4a4a" stroke="#111" stroke-width="0.7"/></g>
<g transform="translate(416.80,451.80) rotate(22) scale(1.0)"><rect x="-3.5" y="-1.05" width="4.1" height="2.1" rx="0.6" fill="#d8d8d8" stroke="#111" stroke-width="0.65"/><line x1="-2.2" y1="-1" x2="-2.2" y2="1" stroke="#111" stroke-width="0.4"/><line x1="-1" y1="-1" x2="-1" y2="1" stroke="#111" stroke-width="0.4"/><ellipse cx="1.6" cy="0" rx="1.4" ry="1.9" fill="#4a4a4a" stroke="#111" stroke-width="0.7"/></g>
<g transform="translate(426.5,435.6) rotate(22)"><rect x="-3.6" y="-1.2" width="4.4" height="2.4" rx="0.6" fill="#ddd" stroke="#111" stroke-width="0.7"/><ellipse cx="1.6" cy="0" rx="1.4" ry="1.9" fill="#444" stroke="#111" stroke-width="0.7"/><ellipse cx="-0.6" cy="-2.2" rx="1.3" ry="1.0" fill="#888" stroke="#111" stroke-width="0.7"/><line x1="-2.2" y1="-1.2" x2="-2.2" y2="1.2" stroke="#111" stroke-width="0.5"/></g>
<g transform="translate(449.30,359.30)"><rect x="-1.6" y="-1.5" width="3.2" height="3.2" rx="1.1" fill="#fff" stroke="#1a1a1a" stroke-width="0.85"/><ellipse cx="0" cy="-0.7" rx="1.35" ry="0.8" fill="#333" stroke="#1a1a1a" stroke-width="0.4"/></g>
<ellipse cx="449.30" cy="367.00" rx="3.4" ry="1.6" fill="#fff" stroke="#1a1a1a" stroke-width="0.9"/>
<ellipse cx="449.30" cy="367.00" rx="1.53" ry="0.7200000000000001" fill="#999" stroke="#1a1a1a" stroke-width="0.6"/>
<ellipse cx="449.3" cy="377" rx="1.8" ry="0.8" fill="#111"/>
<rect x="448.1" y="385" width="2.4" height="9.5" rx="0.9" fill="#e6e6e6" stroke="#1a1a1a" stroke-width="0.8"/>
<ellipse cx="449.3" cy="394.5" rx="1.9" ry="1.0" fill="#555" stroke="#111" stroke-width="0.7"/>
<g transform="translate(459.30,354.50)"><rect x="-1.6" y="-1.5" width="3.2" height="3.2" rx="1.1" fill="#fff" stroke="#1a1a1a" stroke-width="0.85"/><ellipse cx="0" cy="-0.7" rx="1.35" ry="0.8" fill="#333" stroke="#1a1a1a" stroke-width="0.4"/></g>
<ellipse cx="459.30" cy="363.00" rx="3.4" ry="1.6" fill="#fff" stroke="#1a1a1a" stroke-width="0.9"/>
<ellipse cx="459.30" cy="363.00" rx="1.53" ry="0.7200000000000001" fill="#999" stroke="#1a1a1a" stroke-width="0.6"/>
<ellipse cx="459.3" cy="373.3" rx="1.8" ry="0.8" fill="#111"/>
<rect x="458.1" y="381.3" width="2.4" height="9.199999999999989" rx="0.9" fill="#e6e6e6" stroke="#1a1a1a" stroke-width="0.8"/>
<ellipse cx="459.3" cy="390.5" rx="1.9" ry="1.0" fill="#555" stroke="#111" stroke-width="0.7"/>
<path d="M441.90,173.20 L446.40,168.30 L451.50,168.20 L567.00,121.30 L573.80,119.50 L581.00,121.00 L585.50,126.00 L584.00,130.50 L580.00,133.80 L453.40,184.30 L446.40,184.70 L442.90,180.80 L443.60,177.50 Z" fill="#fcfcfc" stroke="#111" stroke-width="1.0" stroke-linejoin="round" stroke-linecap="round" />
<path d="M460.30,178.40 L582.50,130.80" fill="none" stroke="#111" stroke-width="0.8" />
<path d="M468.50,162.30 L476.00,162.30 L559.50,128.50 L561.50,123.60" fill="none" stroke="#111" stroke-width="0.7" />
<path d="M559.50,128.50 L562.50,133.00 L573.80,119.50" fill="none" stroke="#111" stroke-width="0.6" />
<path d="M473.80,169.60 L476.50,167.30 L566.00,131.00 L571.00,131.50 L573.00,134.00 L571.00,136.50 L478.50,174.30 L474.80,173.30 Z" fill="#f2f2f2" stroke="#111" stroke-width="0.85" stroke-linejoin="round" stroke-linecap="round" />
<path d="M477.00,169.80 L569.00,133.00" fill="none" stroke="#111" stroke-width="0.6" />
<path d="M503.50,150.30 L535.00,137.70 L535.60,140.30 L504.20,153.00 Z" fill="#666" stroke="#111" stroke-width="0.5" stroke-linejoin="round" stroke-linecap="round" />
<path d="M505.00,149.70 L505.50,152.30" fill="none" stroke="#000" stroke-width="1.1" />
<path d="M507.90,148.53 L508.40,151.13" fill="none" stroke="#000" stroke-width="1.1" />
<path d="M510.80,147.36 L511.30,149.96" fill="none" stroke="#000" stroke-width="1.1" />
<path d="M513.70,146.19 L514.20,148.79" fill="none" stroke="#000" stroke-width="1.1" />
<path d="M516.60,145.02 L517.10,147.62" fill="none" stroke="#000" stroke-width="1.1" />
<path d="M519.50,143.85 L520.00,146.45" fill="none" stroke="#000" stroke-width="1.1" />
<path d="M522.40,142.68 L522.90,145.28" fill="none" stroke="#000" stroke-width="1.1" />
<path d="M525.30,141.51 L525.80,144.11" fill="none" stroke="#000" stroke-width="1.1" />
<path d="M528.20,140.34 L528.70,142.94" fill="none" stroke="#000" stroke-width="1.1" />
<path d="M531.10,139.17 L531.60,141.77" fill="none" stroke="#000" stroke-width="1.1" />
<path d="M534.00,138.00 L534.50,140.60" fill="none" stroke="#000" stroke-width="1.1" />
<path d="M520.00,143.50 L535.00,137.50" fill="none" stroke="#000" stroke-width="0.8" />
<path d="M450.90,168.30 C451.55,168.55 453.65,168.93 454.80,169.80 C455.95,170.67 456.88,172.07 457.80,173.50 C458.72,174.93 459.88,177.58 460.30,178.40" fill="none" stroke="#111" stroke-width="1.1" stroke-linejoin="round" stroke-linecap="round" />
<path d="M447.80,169.30 C448.55,169.63 451.05,170.35 452.30,171.30 C453.55,172.25 454.47,173.58 455.30,175.00 C456.13,176.42 456.97,179.00 457.30,179.80" fill="none" stroke="#111" stroke-width="0.8" stroke-linejoin="round" stroke-linecap="round" />
<path d="M443.20,176.30 L448.80,173.60 L453.50,177.30 L449.30,180.30 L446.50,184.50" fill="none" stroke="#111" stroke-width="0.8" stroke-linejoin="round" stroke-linecap="round" />
<path d="M453.50,177.30 L457.30,179.80 L453.40,184.30" fill="none" stroke="#111" stroke-width="0.8" />
<path d="M449.30,180.30 L452.80,183.80" fill="none" stroke="#111" stroke-width="0.7" />
<path d="M443.60,177.50 L448.80,175.30" fill="none" stroke="#111" stroke-width="0.6" />
<path d="M449.30,180.30 L453.50,177.30 L457.30,179.80 L454.50,183.00 Z" fill="#555" stroke="#111" stroke-width="0.5" stroke-linejoin="round" stroke-linecap="round" />
<circle cx="446.3" cy="182.5" r="1.0" fill="#fff" stroke="#111" stroke-width="0.6"/>
<path d="M458.80,205.00 L610.50,153.70 L613.80,153.50 L614.20,156.00 L611.50,158.50 L460.00,209.00 L458.60,207.30 Z" fill="#f2f2f2" stroke="#111" stroke-width="0.9" stroke-linejoin="round" stroke-linecap="round" />
<path d="M460.00,207.00 L612.00,155.70" fill="none" stroke="#111" stroke-width="0.7" />
<path d="M458.50,235.30 L643.80,171.20 L644.80,174.60 L647.20,174.90 L646.50,178.30 L460.50,241.80 L458.80,240.50 Z" fill="#fdfdfd" stroke="#111" stroke-width="0.9" stroke-linejoin="round" stroke-linecap="round" />
<path d="M459.30,236.90 L645.20,172.90" fill="none" stroke="#111" stroke-width="0.5" />
<path d="M459.30,238.60 L645.20,174.60" fill="none" stroke="#111" stroke-width="0.5" />
<path d="M459.30,240.30 L645.20,176.30" fill="none" stroke="#111" stroke-width="0.5" />
<path d="M458.80,236.00 L460.30,241.50" fill="none" stroke="#111" stroke-width="0.7" />
<rect x="630.6" y="132" width="1.3" height="2.6" fill="#111"/>
<rect x="630.4" y="145.4" width="2" height="1.3" fill="#111"/>
<path d="M629.50,161.50 L632.00,160.50 L634.50,162.20 L634.00,164.30 L631.00,164.80 L629.50,163.30 Z" fill="#333" stroke="#111" stroke-width="0.6" stroke-linejoin="round" stroke-linecap="round" />
<path d="M465.30,268.70 L465.01,266.99 L467.75,266.08 L468.10,267.77 Z" fill="#fff" stroke="#000" stroke-width="0.9" stroke-linejoin="miter" stroke-linecap="round" />
<path d="M466.30,270.97 L465.77,272.91 L468.29,271.88 L469.10,270.04 Z" fill="#fff" stroke="#000" stroke-width="0.9" stroke-linejoin="miter" stroke-linecap="round" />
<path d="M470.90,266.85 L470.45,264.33 L473.16,263.43 L473.70,265.92 Z" fill="#fff" stroke="#000" stroke-width="0.9" stroke-linejoin="miter" stroke-linecap="round" />
<path d="M471.90,269.11 L471.07,272.00 L473.43,271.02 L474.70,268.19 Z" fill="#fff" stroke="#000" stroke-width="0.9" stroke-linejoin="miter" stroke-linecap="round" />
<path d="M476.50,264.99 L475.89,261.67 L478.56,260.78 L479.30,264.06 Z" fill="#fff" stroke="#000" stroke-width="0.9" stroke-linejoin="miter" stroke-linecap="round" />
<path d="M477.50,267.26 L476.37,271.08 L478.57,270.16 L480.30,266.33 Z" fill="#fff" stroke="#000" stroke-width="0.9" stroke-linejoin="miter" stroke-linecap="round" />
<path d="M482.10,263.14 L481.36,259.21 L484.01,258.33 L484.90,262.21 Z" fill="#fff" stroke="#000" stroke-width="0.9" stroke-linejoin="miter" stroke-linecap="round" />
<path d="M483.10,265.40 L481.74,269.93 L483.82,269.05 L485.90,264.48 Z" fill="#fff" stroke="#000" stroke-width="0.9" stroke-linejoin="miter" stroke-linecap="round" />
<path d="M487.70,261.28 L486.88,256.95 L489.51,256.08 L490.50,260.35 Z" fill="#fff" stroke="#000" stroke-width="0.9" stroke-linejoin="miter" stroke-linecap="round" />
<path d="M488.70,263.55 L487.19,268.55 L489.19,267.69 L491.50,262.62 Z" fill="#fff" stroke="#000" stroke-width="0.9" stroke-linejoin="miter" stroke-linecap="round" />
<path d="M493.30,259.43 L492.48,255.10 L495.11,254.23 L496.10,258.50 Z" fill="#fff" stroke="#000" stroke-width="0.9" stroke-linejoin="miter" stroke-linecap="round" />
<path d="M494.30,261.69 L492.79,266.69 L494.79,265.83 L497.10,260.77 Z" fill="#fff" stroke="#000" stroke-width="0.9" stroke-linejoin="miter" stroke-linecap="round" />
<path d="M498.90,257.57 L498.08,253.24 L500.71,252.37 L501.70,256.64 Z" fill="#fff" stroke="#000" stroke-width="0.9" stroke-linejoin="miter" stroke-linecap="round" />
<path d="M499.90,259.84 L498.39,264.84 L500.39,263.98 L502.70,258.91 Z" fill="#fff" stroke="#000" stroke-width="0.9" stroke-linejoin="miter" stroke-linecap="round" />
<path d="M504.50,255.72 L503.68,251.39 L506.31,250.52 L507.30,254.79 Z" fill="#fff" stroke="#000" stroke-width="0.9" stroke-linejoin="miter" stroke-linecap="round" />
<path d="M505.50,257.98 L503.99,262.98 L505.99,262.12 L508.30,257.06 Z" fill="#fff" stroke="#000" stroke-width="0.9" stroke-linejoin="miter" stroke-linecap="round" />
<path d="M510.10,253.86 L509.28,249.53 L511.91,248.66 L512.90,252.93 Z" fill="#fff" stroke="#000" stroke-width="0.9" stroke-linejoin="miter" stroke-linecap="round" />
<path d="M511.10,256.13 L509.59,261.13 L511.59,260.27 L513.90,255.20 Z" fill="#fff" stroke="#000" stroke-width="0.9" stroke-linejoin="miter" stroke-linecap="round" />
<path d="M515.70,252.01 L514.88,247.68 L517.51,246.81 L518.50,251.08 Z" fill="#fff" stroke="#000" stroke-width="0.9" stroke-linejoin="miter" stroke-linecap="round" />
<path d="M516.70,254.27 L515.19,259.27 L517.19,258.41 L519.50,253.35 Z" fill="#fff" stroke="#000" stroke-width="0.9" stroke-linejoin="miter" stroke-linecap="round" />
<path d="M521.30,250.15 L520.48,245.82 L523.11,244.95 L524.10,249.22 Z" fill="#fff" stroke="#000" stroke-width="0.9" stroke-linejoin="miter" stroke-linecap="round" />
<path d="M522.30,252.42 L520.79,257.42 L522.79,256.56 L525.10,251.49 Z" fill="#fff" stroke="#000" stroke-width="0.9" stroke-linejoin="miter" stroke-linecap="round" />
<path d="M526.90,248.30 L526.08,243.97 L528.71,243.10 L529.70,247.37 Z" fill="#fff" stroke="#000" stroke-width="0.9" stroke-linejoin="miter" stroke-linecap="round" />
<path d="M527.90,250.56 L526.39,255.57 L528.39,254.70 L530.70,249.64 Z" fill="#fff" stroke="#000" stroke-width="0.9" stroke-linejoin="miter" stroke-linecap="round" />
<path d="M532.50,246.44 L531.68,242.11 L534.31,241.24 L535.30,245.51 Z" fill="#fff" stroke="#000" stroke-width="0.9" stroke-linejoin="miter" stroke-linecap="round" />
<path d="M533.50,248.71 L531.99,253.71 L533.99,252.85 L536.30,247.78 Z" fill="#fff" stroke="#000" stroke-width="0.9" stroke-linejoin="miter" stroke-linecap="round" />
<path d="M538.10,244.59 L537.28,240.26 L539.91,239.39 L540.90,243.66 Z" fill="#fff" stroke="#000" stroke-width="0.9" stroke-linejoin="miter" stroke-linecap="round" />
<path d="M539.10,246.85 L537.59,251.86 L539.59,250.99 L541.90,245.93 Z" fill="#fff" stroke="#000" stroke-width="0.9" stroke-linejoin="miter" stroke-linecap="round" />
<path d="M543.70,242.68 L542.88,238.32 L545.51,237.55 L546.50,241.86 Z" fill="#fff" stroke="#000" stroke-width="0.9" stroke-linejoin="miter" stroke-linecap="round" />
<path d="M544.70,244.99 L543.19,249.93 L545.19,249.14 L547.50,244.17 Z" fill="#fff" stroke="#000" stroke-width="0.9" stroke-linejoin="miter" stroke-linecap="round" />
<path d="M549.30,241.04 L548.48,236.68 L551.11,235.90 L552.10,240.21 Z" fill="#fff" stroke="#000" stroke-width="0.9" stroke-linejoin="miter" stroke-linecap="round" />
<path d="M550.30,243.34 L548.79,248.29 L550.79,247.50 L553.10,242.52 Z" fill="#fff" stroke="#000" stroke-width="0.9" stroke-linejoin="miter" stroke-linecap="round" />
<path d="M554.90,239.39 L554.08,235.03 L556.71,234.26 L557.70,238.57 Z" fill="#fff" stroke="#000" stroke-width="0.9" stroke-linejoin="miter" stroke-linecap="round" />
<path d="M555.90,241.70 L554.39,246.64 L556.39,245.85 L558.70,240.87 Z" fill="#fff" stroke="#000" stroke-width="0.9" stroke-linejoin="miter" stroke-linecap="round" />
<path d="M560.50,237.74 L559.68,233.38 L562.31,232.61 L563.30,236.92 Z" fill="#fff" stroke="#000" stroke-width="0.9" stroke-linejoin="miter" stroke-linecap="round" />
<path d="M561.50,240.05 L559.99,244.99 L561.99,244.21 L564.30,239.23 Z" fill="#fff" stroke="#000" stroke-width="0.9" stroke-linejoin="miter" stroke-linecap="round" />
<path d="M566.10,236.10 L565.28,231.74 L567.91,230.97 L568.90,235.28 Z" fill="#fff" stroke="#000" stroke-width="0.9" stroke-linejoin="miter" stroke-linecap="round" />
<path d="M567.10,238.40 L565.59,243.35 L567.59,242.56 L569.90,237.58 Z" fill="#fff" stroke="#000" stroke-width="0.9" stroke-linejoin="miter" stroke-linecap="round" />
<path d="M571.70,234.45 L570.88,230.09 L573.51,229.32 L574.50,233.63 Z" fill="#fff" stroke="#000" stroke-width="0.9" stroke-linejoin="miter" stroke-linecap="round" />
<path d="M572.70,236.76 L571.19,241.70 L573.19,240.91 L575.50,235.94 Z" fill="#fff" stroke="#000" stroke-width="0.9" stroke-linejoin="miter" stroke-linecap="round" />
<path d="M577.30,232.81 L576.48,228.45 L579.11,227.67 L580.10,231.98 Z" fill="#fff" stroke="#000" stroke-width="0.9" stroke-linejoin="miter" stroke-linecap="round" />
<path d="M578.30,235.11 L576.79,240.06 L578.79,239.27 L581.10,234.29 Z" fill="#fff" stroke="#000" stroke-width="0.9" stroke-linejoin="miter" stroke-linecap="round" />
<path d="M582.90,231.16 L582.08,226.80 L584.71,226.03 L585.70,230.34 Z" fill="#fff" stroke="#000" stroke-width="0.9" stroke-linejoin="miter" stroke-linecap="round" />
<path d="M583.90,233.47 L582.39,238.41 L584.39,237.62 L586.70,232.64 Z" fill="#fff" stroke="#000" stroke-width="0.9" stroke-linejoin="miter" stroke-linecap="round" />
<path d="M588.50,229.52 L587.68,225.16 L590.31,224.38 L591.30,228.69 Z" fill="#fff" stroke="#000" stroke-width="0.9" stroke-linejoin="miter" stroke-linecap="round" />
<path d="M589.50,231.82 L587.99,236.77 L589.99,235.98 L592.30,231.00 Z" fill="#fff" stroke="#000" stroke-width="0.9" stroke-linejoin="miter" stroke-linecap="round" />
<path d="M594.10,227.87 L593.28,223.51 L595.91,222.74 L596.90,227.05 Z" fill="#fff" stroke="#000" stroke-width="0.9" stroke-linejoin="miter" stroke-linecap="round" />
<path d="M595.10,230.18 L593.59,235.12 L595.59,234.33 L597.90,229.35 Z" fill="#fff" stroke="#000" stroke-width="0.9" stroke-linejoin="miter" stroke-linecap="round" />
<path d="M599.70,226.22 L598.88,221.86 L601.51,221.09 L602.50,225.40 Z" fill="#fff" stroke="#000" stroke-width="0.9" stroke-linejoin="miter" stroke-linecap="round" />
<path d="M600.70,228.53 L599.19,233.47 L601.19,232.69 L603.50,227.71 Z" fill="#fff" stroke="#000" stroke-width="0.9" stroke-linejoin="miter" stroke-linecap="round" />
<path d="M605.30,224.58 L604.48,220.22 L607.11,219.45 L608.10,223.75 Z" fill="#fff" stroke="#000" stroke-width="0.9" stroke-linejoin="miter" stroke-linecap="round" />
<path d="M606.30,226.88 L604.79,231.83 L606.79,231.04 L609.10,226.06 Z" fill="#fff" stroke="#000" stroke-width="0.9" stroke-linejoin="miter" stroke-linecap="round" />
<path d="M610.90,222.93 L610.08,218.57 L612.71,217.80 L613.70,222.11 Z" fill="#fff" stroke="#000" stroke-width="0.9" stroke-linejoin="miter" stroke-linecap="round" />
<path d="M611.90,225.24 L610.39,230.18 L612.39,229.39 L614.70,224.42 Z" fill="#fff" stroke="#000" stroke-width="0.9" stroke-linejoin="miter" stroke-linecap="round" />
<path d="M616.50,221.29 L615.68,216.93 L618.31,216.15 L619.30,220.46 Z" fill="#fff" stroke="#000" stroke-width="0.9" stroke-linejoin="miter" stroke-linecap="round" />
<path d="M617.50,223.59 L615.99,228.54 L617.99,227.75 L620.30,222.77 Z" fill="#fff" stroke="#000" stroke-width="0.9" stroke-linejoin="miter" stroke-linecap="round" />
<path d="M622.10,219.64 L621.28,215.28 L623.91,214.51 L624.90,218.82 Z" fill="#fff" stroke="#000" stroke-width="0.9" stroke-linejoin="miter" stroke-linecap="round" />
<path d="M623.10,221.95 L621.59,226.89 L623.59,226.10 L625.90,221.12 Z" fill="#fff" stroke="#000" stroke-width="0.9" stroke-linejoin="miter" stroke-linecap="round" />
<path d="M465.30,268.40 L545.00,242.00 L627.00,217.90 L627.00,221.10 L545.00,245.20 L465.30,271.60 Z" fill="#fafafa" stroke="#111" stroke-width="0.8" stroke-linejoin="miter" stroke-linecap="round" />
<path d="M465.30,269.90 L545.00,243.50 L627.00,219.40" fill="none" stroke="#222" stroke-width="0.5" />
<path d="M444.70,277.40 L465.30,268.40 L465.90,271.60 L446.20,280.70 Z" fill="#eee" stroke="#111" stroke-width="0.9" stroke-linejoin="miter" stroke-linecap="round" />
<path d="M448.40,277.30 L463.30,269.50" fill="none" stroke="#111" stroke-width="0.7" />
<path d="M448.90,278.40 L463.30,270.50" fill="none" stroke="#111" stroke-width="0.7" />
<ellipse cx="436.40" cy="280.30" rx="9.6" ry="4.7" fill="#ececec" stroke="#111" stroke-width="1.0"/>
<ellipse cx="435.40" cy="280.75" rx="6.2" ry="2.75" fill="#fff" stroke="#111" stroke-width="0.9"/>
<path d="M465.30,289.70 L465.01,287.99 L467.75,287.11 L468.10,288.81 Z" fill="#fff" stroke="#000" stroke-width="0.9" stroke-linejoin="miter" stroke-linecap="round" />
<path d="M466.30,291.98 L465.77,293.92 L468.29,292.92 L469.10,291.09 Z" fill="#fff" stroke="#000" stroke-width="0.9" stroke-linejoin="miter" stroke-linecap="round" />
<path d="M470.90,287.92 L470.45,285.40 L473.16,284.54 L473.70,287.03 Z" fill="#fff" stroke="#000" stroke-width="0.9" stroke-linejoin="miter" stroke-linecap="round" />
<path d="M471.90,290.20 L471.07,293.07 L473.43,292.12 L474.70,289.31 Z" fill="#fff" stroke="#000" stroke-width="0.9" stroke-linejoin="miter" stroke-linecap="round" />
<path d="M476.50,286.14 L475.89,282.81 L478.56,281.96 L479.30,285.25 Z" fill="#fff" stroke="#000" stroke-width="0.9" stroke-linejoin="miter" stroke-linecap="round" />
<path d="M477.50,288.42 L476.37,292.23 L478.57,291.33 L480.30,287.53 Z" fill="#fff" stroke="#000" stroke-width="0.9" stroke-linejoin="miter" stroke-linecap="round" />
<path d="M482.10,284.35 L481.36,280.42 L484.01,279.58 L484.90,283.46 Z" fill="#fff" stroke="#000" stroke-width="0.9" stroke-linejoin="miter" stroke-linecap="round" />
<path d="M483.10,286.64 L481.74,291.15 L483.82,290.29 L485.90,285.75 Z" fill="#fff" stroke="#000" stroke-width="0.9" stroke-linejoin="miter" stroke-linecap="round" />
<path d="M487.70,282.57 L486.88,278.23 L489.51,277.40 L490.50,281.68 Z" fill="#fff" stroke="#000" stroke-width="0.9" stroke-linejoin="miter" stroke-linecap="round" />
<path d="M488.70,284.85 L487.19,289.84 L489.19,289.00 L491.50,283.96 Z" fill="#fff" stroke="#000" stroke-width="0.9" stroke-linejoin="miter" stroke-linecap="round" />
<path d="M493.30,280.79 L492.48,276.45 L495.11,275.61 L496.10,279.90 Z" fill="#fff" stroke="#000" stroke-width="0.9" stroke-linejoin="miter" stroke-linecap="round" />
<path d="M494.30,283.07 L492.79,288.05 L494.79,287.22 L497.10,282.18 Z" fill="#fff" stroke="#000" stroke-width="0.9" stroke-linejoin="miter" stroke-linecap="round" />
<path d="M498.90,279.01 L498.08,274.67 L500.71,273.83 L501.70,278.12 Z" fill="#fff" stroke="#000" stroke-width="0.9" stroke-linejoin="miter" stroke-linecap="round" />
<path d="M499.90,281.29 L498.39,286.27 L500.39,285.44 L502.70,280.40 Z" fill="#fff" stroke="#000" stroke-width="0.9" stroke-linejoin="miter" stroke-linecap="round" />
<path d="M504.50,277.23 L503.68,272.89 L506.31,272.05 L507.30,276.34 Z" fill="#fff" stroke="#000" stroke-width="0.9" stroke-linejoin="miter" stroke-linecap="round" />
<path d="M505.50,279.51 L503.99,284.49 L505.99,283.65 L508.30,278.62 Z" fill="#fff" stroke="#000" stroke-width="0.9" stroke-linejoin="miter" stroke-linecap="round" />
<path d="M510.10,275.45 L509.28,271.11 L511.91,270.27 L512.90,274.55 Z" fill="#fff" stroke="#000" stroke-width="0.9" stroke-linejoin="miter" stroke-linecap="round" />
<path d="M511.10,277.73 L509.59,282.71 L511.59,281.87 L513.90,276.84 Z" fill="#fff" stroke="#000" stroke-width="0.9" stroke-linejoin="miter" stroke-linecap="round" />
<path d="M515.70,273.66 L514.88,269.32 L517.51,268.49 L518.50,272.77 Z" fill="#fff" stroke="#000" stroke-width="0.9" stroke-linejoin="miter" stroke-linecap="round" />
<path d="M516.70,275.95 L515.19,280.93 L517.19,280.09 L519.50,275.05 Z" fill="#fff" stroke="#000" stroke-width="0.9" stroke-linejoin="miter" stroke-linecap="round" />
<path d="M521.30,271.88 L520.48,267.54 L523.11,266.71 L524.10,270.99 Z" fill="#fff" stroke="#000" stroke-width="0.9" stroke-linejoin="miter" stroke-linecap="round" />
<path d="M522.30,274.16 L520.79,279.14 L522.79,278.31 L525.10,273.27 Z" fill="#fff" stroke="#000" stroke-width="0.9" stroke-linejoin="miter" stroke-linecap="round" />
<path d="M526.90,270.10 L526.08,265.76 L528.71,264.92 L529.70,269.21 Z" fill="#fff" stroke="#000" stroke-width="0.9" stroke-linejoin="miter" stroke-linecap="round" />
<path d="M527.90,272.38 L526.39,277.36 L528.39,276.53 L530.70,271.49 Z" fill="#fff" stroke="#000" stroke-width="0.9" stroke-linejoin="miter" stroke-linecap="round" />
<path d="M532.50,268.32 L531.68,263.98 L534.31,263.14 L535.30,267.43 Z" fill="#fff" stroke="#000" stroke-width="0.9" stroke-linejoin="miter" stroke-linecap="round" />
<path d="M533.50,270.60 L531.99,275.58 L533.99,274.74 L536.30,269.71 Z" fill="#fff" stroke="#000" stroke-width="0.9" stroke-linejoin="miter" stroke-linecap="round" />
<path d="M538.10,266.54 L537.28,262.20 L539.91,261.36 L540.90,265.65 Z" fill="#fff" stroke="#000" stroke-width="0.9" stroke-linejoin="miter" stroke-linecap="round" />
<path d="M539.10,268.82 L537.59,273.80 L539.59,272.96 L541.90,267.93 Z" fill="#fff" stroke="#000" stroke-width="0.9" stroke-linejoin="miter" stroke-linecap="round" />
<path d="M543.70,264.75 L542.88,260.41 L545.51,259.58 L546.50,263.86 Z" fill="#fff" stroke="#000" stroke-width="0.9" stroke-linejoin="miter" stroke-linecap="round" />
<path d="M544.70,267.04 L543.19,272.02 L545.19,271.18 L547.50,266.15 Z" fill="#fff" stroke="#000" stroke-width="0.9" stroke-linejoin="miter" stroke-linecap="round" />
<path d="M549.30,262.97 L548.48,258.63 L551.11,257.80 L552.10,262.08 Z" fill="#fff" stroke="#000" stroke-width="0.9" stroke-linejoin="miter" stroke-linecap="round" />
<path d="M550.30,265.25 L548.79,270.24 L550.79,269.40 L553.10,264.36 Z" fill="#fff" stroke="#000" stroke-width="0.9" stroke-linejoin="miter" stroke-linecap="round" />
<path d="M554.90,261.19 L554.08,256.85 L556.71,256.01 L557.70,260.30 Z" fill="#fff" stroke="#000" stroke-width="0.9" stroke-linejoin="miter" stroke-linecap="round" />
<path d="M555.90,263.47 L554.39,268.45 L556.39,267.62 L558.70,262.58 Z" fill="#fff" stroke="#000" stroke-width="0.9" stroke-linejoin="miter" stroke-linecap="round" />
<path d="M560.50,259.41 L559.68,255.07 L562.31,254.23 L563.30,258.52 Z" fill="#fff" stroke="#000" stroke-width="0.9" stroke-linejoin="miter" stroke-linecap="round" />
<path d="M561.50,261.69 L559.99,266.67 L561.99,265.84 L564.30,260.80 Z" fill="#fff" stroke="#000" stroke-width="0.9" stroke-linejoin="miter" stroke-linecap="round" />
<path d="M566.10,257.63 L565.28,253.29 L567.91,252.45 L568.90,256.74 Z" fill="#fff" stroke="#000" stroke-width="0.9" stroke-linejoin="miter" stroke-linecap="round" />
<path d="M567.10,259.91 L565.59,264.89 L567.59,264.05 L569.90,259.02 Z" fill="#fff" stroke="#000" stroke-width="0.9" stroke-linejoin="miter" stroke-linecap="round" />
<path d="M571.70,255.85 L570.88,251.51 L573.51,250.67 L574.50,254.95 Z" fill="#fff" stroke="#000" stroke-width="0.9" stroke-linejoin="miter" stroke-linecap="round" />
<path d="M572.70,258.13 L571.19,263.11 L573.19,262.27 L575.50,257.24 Z" fill="#fff" stroke="#000" stroke-width="0.9" stroke-linejoin="miter" stroke-linecap="round" />
<path d="M577.30,254.06 L576.48,249.72 L579.11,248.89 L580.10,253.17 Z" fill="#fff" stroke="#000" stroke-width="0.9" stroke-linejoin="miter" stroke-linecap="round" />
<path d="M578.30,256.35 L576.79,261.33 L578.79,260.49 L581.10,255.45 Z" fill="#fff" stroke="#000" stroke-width="0.9" stroke-linejoin="miter" stroke-linecap="round" />
<path d="M582.90,252.28 L582.08,247.94 L584.71,247.11 L585.70,251.39 Z" fill="#fff" stroke="#000" stroke-width="0.9" stroke-linejoin="miter" stroke-linecap="round" />
<path d="M583.90,254.56 L582.39,259.54 L584.39,258.71 L586.70,253.67 Z" fill="#fff" stroke="#000" stroke-width="0.9" stroke-linejoin="miter" stroke-linecap="round" />
<path d="M588.50,250.50 L587.68,246.16 L590.31,245.32 L591.30,249.61 Z" fill="#fff" stroke="#000" stroke-width="0.9" stroke-linejoin="miter" stroke-linecap="round" />
<path d="M589.50,252.78 L587.99,257.76 L589.99,256.93 L592.30,251.89 Z" fill="#fff" stroke="#000" stroke-width="0.9" stroke-linejoin="miter" stroke-linecap="round" />
<path d="M594.10,248.72 L593.28,244.38 L595.91,243.54 L596.90,247.83 Z" fill="#fff" stroke="#000" stroke-width="0.9" stroke-linejoin="miter" stroke-linecap="round" />
<path d="M595.10,251.00 L593.59,255.98 L595.59,255.14 L597.90,250.11 Z" fill="#fff" stroke="#000" stroke-width="0.9" stroke-linejoin="miter" stroke-linecap="round" />
<path d="M599.70,246.94 L598.88,242.60 L601.51,241.76 L602.50,246.05 Z" fill="#fff" stroke="#000" stroke-width="0.9" stroke-linejoin="miter" stroke-linecap="round" />
<path d="M600.70,249.22 L599.19,254.20 L601.19,253.36 L603.50,248.33 Z" fill="#fff" stroke="#000" stroke-width="0.9" stroke-linejoin="miter" stroke-linecap="round" />
<path d="M605.30,245.15 L604.48,240.81 L607.11,239.98 L608.10,244.26 Z" fill="#fff" stroke="#000" stroke-width="0.9" stroke-linejoin="miter" stroke-linecap="round" />
<path d="M606.30,247.44 L604.79,252.42 L606.79,251.58 L609.10,246.55 Z" fill="#fff" stroke="#000" stroke-width="0.9" stroke-linejoin="miter" stroke-linecap="round" />
<path d="M610.90,243.37 L610.08,239.03 L612.71,238.20 L613.70,242.48 Z" fill="#fff" stroke="#000" stroke-width="0.9" stroke-linejoin="miter" stroke-linecap="round" />
<path d="M611.90,245.65 L610.39,250.64 L612.39,249.80 L614.70,244.76 Z" fill="#fff" stroke="#000" stroke-width="0.9" stroke-linejoin="miter" stroke-linecap="round" />
<path d="M616.50,241.59 L615.68,237.25 L618.31,236.41 L619.30,240.70 Z" fill="#fff" stroke="#000" stroke-width="0.9" stroke-linejoin="miter" stroke-linecap="round" />
<path d="M617.50,243.87 L615.99,248.85 L617.99,248.02 L620.30,242.98 Z" fill="#fff" stroke="#000" stroke-width="0.9" stroke-linejoin="miter" stroke-linecap="round" />
<path d="M465.30,289.40 L621.50,239.70 L621.50,242.90 L465.30,292.60 Z" fill="#fafafa" stroke="#111" stroke-width="0.8" stroke-linejoin="miter" stroke-linecap="round" />
<path d="M465.30,290.90 L621.50,241.20" fill="none" stroke="#222" stroke-width="0.5" />
<path d="M444.70,298.00 L465.30,289.40 L465.90,292.60 L446.20,301.30 Z" fill="#eee" stroke="#111" stroke-width="0.9" stroke-linejoin="miter" stroke-linecap="round" />
<path d="M448.40,297.90 L463.30,290.50" fill="none" stroke="#111" stroke-width="0.7" />
<path d="M448.90,299.00 L463.30,291.50" fill="none" stroke="#111" stroke-width="0.7" />
<ellipse cx="436.40" cy="300.90" rx="9.6" ry="4.7" fill="#ececec" stroke="#111" stroke-width="1.0"/>
<ellipse cx="435.40" cy="301.35" rx="6.2" ry="2.75" fill="#fff" stroke="#111" stroke-width="0.9"/>
<rect x="434.4" y="231.4" width="3.6" height="6.2" rx="1.3" fill="#fff" stroke="#111" stroke-width="1.0"/><rect x="434.9" y="231.2" width="2.6" height="1.3" rx="0.5" fill="#111"/>
<path d="M424,247 L424,249.2 A12.3,4.8 0 0 0 448.6,249.2 L448.6,247 Z" fill="#0c0c0c" stroke="#0c0c0c" stroke-width="0.9"/>
<ellipse cx="436.30" cy="246.90" rx="11.7" ry="4.4" fill="#fff" stroke="#0c0c0c" stroke-width="1.5"/>
<ellipse cx="436.30" cy="247.00" rx="9.6" ry="3.3" fill="none" stroke="#333" stroke-width="0.6"/>
<ellipse cx="430.30" cy="246.60" rx="3.0" ry="1.6" fill="#fff" stroke="#111" stroke-width="0.9"/>
<ellipse cx="436.60" cy="245.40" rx="2.7" ry="1.6" fill="#fff" stroke="#111" stroke-width="0.9"/>
<ellipse cx="442.20" cy="247.20" rx="3.0" ry="1.6" fill="#fff" stroke="#111" stroke-width="0.9"/>
<path d="M433.40,249.30 L436.00,246.90 L439.50,249.60" fill="none" stroke="#111" stroke-width="1.0" />
<path d="M436.00,246.90 L436.20,250.20" fill="none" stroke="#111" stroke-width="0.9" />
<ellipse cx="438.00" cy="269.80" rx="5.3" ry="2.5" fill="#fff" stroke="#111" stroke-width="0.9"/>
<path d="M435.50,270.30 C435.83,270.08 436.92,269.00 437.50,269.00 C438.08,269.00 438.45,270.25 439.00,270.30 C439.55,270.35 440.50,269.47 440.80,269.30" fill="none" stroke="#222" stroke-width="0.7" stroke-linejoin="round" stroke-linecap="round" />
<ellipse cx="436.30" cy="290.40" rx="9.0" ry="4.1" fill="#fdfdfd" stroke="#3a3a3a" stroke-width="0.8"/>
<path d="M433.00,291.50 C433.50,291.22 435.25,289.88 436.00,289.80 C436.75,289.72 436.83,291.08 437.50,291.00 C438.17,290.92 439.58,289.58 440.00,289.30" fill="none" stroke="#444" stroke-width="0.7" stroke-linejoin="round" stroke-linecap="round" />
<ellipse cx="435.00" cy="311.20" rx="5.6" ry="2.6" fill="#f2f2f2" stroke="#111" stroke-width="1.2"/>
<path d="M432.30,311.80 C432.72,311.58 434.18,310.50 434.80,310.50 C435.42,310.50 435.47,311.78 436.00,311.80 C436.53,311.82 437.67,310.80 438.00,310.60" fill="none" stroke="#222" stroke-width="0.7" stroke-linejoin="round" stroke-linecap="round" />
<ellipse cx="436.30" cy="322.70" rx="9.0" ry="4.1" fill="#fdfdfd" stroke="#111" stroke-width="0.9"/>
<path d="M433.00,323.80 C433.50,323.50 435.25,322.08 436.00,322.00 C436.75,321.92 436.83,323.37 437.50,323.30 C438.17,323.23 439.58,321.88 440.00,321.60" fill="none" stroke="#222" stroke-width="0.8" stroke-linejoin="round" stroke-linecap="round" />
<rect x="433.3" y="329" width="2.0" height="6" rx="0.8" fill="#ddd" stroke="#111" stroke-width="0.8"/>
<rect x="437.8" y="333.3" width="2.0" height="6" rx="0.8" fill="#ddd" stroke="#111" stroke-width="0.8"/>
<g transform="translate(476.80,247.50)"><rect x="-1.6" y="-1.5" width="3.2" height="3.2" rx="1.1" fill="#fff" stroke="#1a1a1a" stroke-width="0.85"/><ellipse cx="0" cy="-0.7" rx="1.35" ry="0.8" fill="#333" stroke="#1a1a1a" stroke-width="0.4"/></g>
<g transform="translate(502.00,239.50)"><rect x="-1.6" y="-1.5" width="3.2" height="3.2" rx="1.1" fill="#fff" stroke="#1a1a1a" stroke-width="0.85"/><ellipse cx="0" cy="-0.7" rx="1.35" ry="0.8" fill="#333" stroke="#1a1a1a" stroke-width="0.4"/></g>
<g transform="translate(526.80,230.80)"><rect x="-1.6" y="-1.5" width="3.2" height="3.2" rx="1.1" fill="#fff" stroke="#1a1a1a" stroke-width="0.85"/><ellipse cx="0" cy="-0.7" rx="1.35" ry="0.8" fill="#333" stroke="#1a1a1a" stroke-width="0.4"/></g>
<g transform="translate(548.80,222.70)"><rect x="-1.6" y="-1.5" width="3.2" height="3.2" rx="1.1" fill="#fff" stroke="#1a1a1a" stroke-width="0.85"/><ellipse cx="0" cy="-0.7" rx="1.35" ry="0.8" fill="#333" stroke="#1a1a1a" stroke-width="0.4"/></g>
<g transform="translate(572.50,215.30)"><rect x="-1.6" y="-1.5" width="3.2" height="3.2" rx="1.1" fill="#fff" stroke="#1a1a1a" stroke-width="0.85"/><ellipse cx="0" cy="-0.7" rx="1.35" ry="0.8" fill="#333" stroke="#1a1a1a" stroke-width="0.4"/></g>
<g transform="translate(593.30,210.00)"><rect x="-1.6" y="-1.5" width="3.2" height="3.2" rx="1.1" fill="#fff" stroke="#1a1a1a" stroke-width="0.85"/><ellipse cx="0" cy="-0.7" rx="1.35" ry="0.8" fill="#333" stroke="#1a1a1a" stroke-width="0.4"/></g>
<g transform="translate(611.30,205.50)"><rect x="-1.6" y="-1.5" width="3.2" height="3.2" rx="1.1" fill="#fff" stroke="#1a1a1a" stroke-width="0.85"/><ellipse cx="0" cy="-0.7" rx="1.35" ry="0.8" fill="#333" stroke="#1a1a1a" stroke-width="0.4"/></g>
<ellipse cx="474.30" cy="300.80" rx="3.4" ry="1.6" fill="#fff" stroke="#1a1a1a" stroke-width="0.9"/>
<ellipse cx="474.30" cy="300.80" rx="1.53" ry="0.7200000000000001" fill="#999" stroke="#1a1a1a" stroke-width="0.6"/>
<ellipse cx="502.50" cy="293.30" rx="3.4" ry="1.6" fill="#fff" stroke="#1a1a1a" stroke-width="0.9"/>
<ellipse cx="502.50" cy="293.30" rx="1.53" ry="0.7200000000000001" fill="#999" stroke="#1a1a1a" stroke-width="0.6"/>
<ellipse cx="526.80" cy="284.30" rx="3.4" ry="1.6" fill="#fff" stroke="#1a1a1a" stroke-width="0.9"/>
<ellipse cx="526.80" cy="284.30" rx="1.53" ry="0.7200000000000001" fill="#999" stroke="#1a1a1a" stroke-width="0.6"/>
<ellipse cx="549.30" cy="277.50" rx="3.4" ry="1.6" fill="#fff" stroke="#1a1a1a" stroke-width="0.9"/>
<ellipse cx="549.30" cy="277.50" rx="1.53" ry="0.7200000000000001" fill="#999" stroke="#1a1a1a" stroke-width="0.6"/>
<ellipse cx="574.30" cy="269.80" rx="3.4" ry="1.6" fill="#fff" stroke="#1a1a1a" stroke-width="0.9"/>
<ellipse cx="574.30" cy="269.80" rx="1.53" ry="0.7200000000000001" fill="#999" stroke="#1a1a1a" stroke-width="0.6"/>
<ellipse cx="593.00" cy="264.30" rx="3.4" ry="1.6" fill="#fff" stroke="#1a1a1a" stroke-width="0.9"/>
<ellipse cx="593.00" cy="264.30" rx="1.53" ry="0.7200000000000001" fill="#999" stroke="#1a1a1a" stroke-width="0.6"/>
<ellipse cx="609.30" cy="259.30" rx="3.4" ry="1.6" fill="#fff" stroke="#1a1a1a" stroke-width="0.9"/>
<ellipse cx="609.30" cy="259.30" rx="1.53" ry="0.7200000000000001" fill="#999" stroke="#1a1a1a" stroke-width="0.6"/>
<g transform="translate(474.50,314.30)"><rect x="-1" y="-3.4" width="2" height="4.4" rx="0.8" fill="#ddd" stroke="#222" stroke-width="0.6"/><ellipse cx="0" cy="2" rx="1.7" ry="1.4" fill="#666" stroke="#111" stroke-width="0.6"/></g>
<g transform="translate(503.30,306.80)"><rect x="-1" y="-3.4" width="2" height="4.4" rx="0.8" fill="#ddd" stroke="#222" stroke-width="0.6"/><ellipse cx="0" cy="2" rx="1.7" ry="1.4" fill="#666" stroke="#111" stroke-width="0.6"/></g>
<g transform="translate(526.80,297.50)"><rect x="-1" y="-3.4" width="2" height="4.4" rx="0.8" fill="#ddd" stroke="#222" stroke-width="0.6"/><ellipse cx="0" cy="2" rx="1.7" ry="1.4" fill="#666" stroke="#111" stroke-width="0.6"/></g>
<g transform="translate(549.30,288.80)"><rect x="-1" y="-3.4" width="2" height="4.4" rx="0.8" fill="#ddd" stroke="#222" stroke-width="0.6"/><ellipse cx="0" cy="2" rx="1.7" ry="1.4" fill="#666" stroke="#111" stroke-width="0.6"/></g>
<g transform="translate(574.30,281.50)"><rect x="-1" y="-3.4" width="2" height="4.4" rx="0.8" fill="#ddd" stroke="#222" stroke-width="0.6"/><ellipse cx="0" cy="2" rx="1.7" ry="1.4" fill="#666" stroke="#111" stroke-width="0.6"/></g>
<g transform="translate(593.00,276.30)"><rect x="-1" y="-3.4" width="2" height="4.4" rx="0.8" fill="#ddd" stroke="#222" stroke-width="0.6"/><ellipse cx="0" cy="2" rx="1.7" ry="1.4" fill="#666" stroke="#111" stroke-width="0.6"/></g>
<g transform="translate(609.30,270.50)"><rect x="-1" y="-3.4" width="2" height="4.4" rx="0.8" fill="#ddd" stroke="#222" stroke-width="0.6"/><ellipse cx="0" cy="2" rx="1.7" ry="1.4" fill="#666" stroke="#111" stroke-width="0.6"/></g>
<ellipse cx="622.30" cy="260.30" rx="3.6" ry="1.9" fill="#eee" stroke="#333" stroke-width="0.8" transform="rotate(-20 622.3 260.3)"/>
<ellipse cx="630.00" cy="261.00" rx="3.2" ry="1.9" fill="#eee" stroke="#333" stroke-width="0.8" transform="rotate(35 630 261)"/>
<ellipse cx="624.50" cy="255.30" rx="3" ry="1.7" fill="#eee" stroke="#333" stroke-width="0.8" transform="rotate(25 624.5 255.3)"/>
<ellipse cx="626.30" cy="258.30" rx="2.6" ry="2.1" fill="#bbb" stroke="#333" stroke-width="0.9"/>
<path d="M624.00,260.00 L628.50,256.50" fill="none" stroke="#333" stroke-width="0.8" />
<rect x="604.3" y="424.7" width="39" height="52.5" fill="#fcfcfc" stroke="#333" stroke-width="0.9"/>
<rect x="606.2" y="426.2" width="35.4" height="49.6" fill="none" stroke="#999" stroke-width="0.6"/>
<path d="M606.30,428.00 C607.25,428.38 610.05,430.13 612.00,430.30 C613.95,430.47 616.33,429.47 618.00,429.00 C619.67,428.53 621.33,427.75 622.00,427.50" fill="none" stroke="#777" stroke-width="0.7" stroke-linejoin="round" stroke-linecap="round" />
<path d="M606.30,474.50 C607.75,474.25 612.38,473.67 615.00,473.00 C617.62,472.33 619.17,470.83 622.00,470.50 C624.83,470.17 628.75,470.50 632.00,471.00 C635.25,471.50 639.92,473.08 641.50,473.50" fill="none" stroke="#777" stroke-width="0.7" stroke-linejoin="round" stroke-linecap="round" />
<circle cx="629.2" cy="439.7" r="10" fill="none" stroke="#777" stroke-width="0.8"/>
<circle cx="629.2" cy="439.7" r="8.2" fill="none" stroke="#777" stroke-width="0.7"/>
<circle cx="629.2" cy="439.3" r="5.6" fill="none" stroke="#444" stroke-width="0.9"/>
<circle cx="629.2" cy="439.3" r="4.2" fill="#fff" stroke="#555" stroke-width="0.7"/>
<rect x="623.8" y="438" width="1.2" height="3" fill="#111"/><rect x="633.4" y="438" width="1.2" height="3" fill="#111"/>
<path d="M621.30,442.50 L621.30,456.50" fill="none" stroke="#111" stroke-width="1.0" />
<path d="M636.50,442.50 L636.50,468.00" fill="none" stroke="#111" stroke-width="1.0" />
<path d="M626.70,456.50 L626.70,453.30 L633.30,453.30 L633.30,468.50" fill="none" stroke="#111" stroke-width="1.0" />
<path d="M609.20,454.20 L613.50,453.30 L614.50,456.00 L618.30,456.00 L618.30,454.80 L627.50,454.80 L628.20,463.20 L619.00,464.30 L617.50,462.00 L612.00,462.00 L610.70,457.80 Z" fill="#fff" stroke="#333" stroke-width="0.8" stroke-linejoin="round" stroke-linecap="round" />
<circle cx="620.8" cy="459.7" r="1.4" fill="#fff" stroke="#333" stroke-width="0.6"/>
</svg>
</body></html>
